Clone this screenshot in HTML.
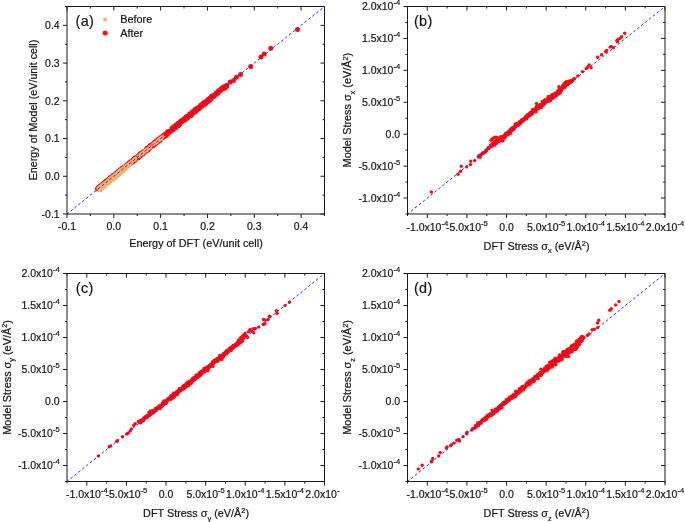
<!DOCTYPE html>
<html><head><meta charset="utf-8"><style>
html,body{margin:0;padding:0;background:#fff;}
svg{display:block;will-change:transform;}
text{font-family:"Liberation Sans", sans-serif;fill:#161616;stroke:#161616;stroke-width:0.2px;}
</style></head><body>
<svg width="685" height="522" viewBox="0 0 685 522">
<rect width="685" height="522" fill="#fff"/>
<g fill="#ff0a0a">
<circle cx="97.6" cy="188.9" r="2.5"/>
<circle cx="97.9" cy="188.4" r="2.5"/>
<circle cx="98.1" cy="188.3" r="2.5"/>
<circle cx="98.6" cy="187.5" r="2.5"/>
<circle cx="99.0" cy="187.8" r="2.5"/>
<circle cx="99.7" cy="186.7" r="2.5"/>
<circle cx="99.9" cy="186.4" r="2.5"/>
<circle cx="100.1" cy="186.3" r="2.5"/>
<circle cx="100.4" cy="186.6" r="2.5"/>
<circle cx="100.7" cy="186.1" r="2.5"/>
<circle cx="100.9" cy="185.8" r="2.5"/>
<circle cx="101.8" cy="185.0" r="2.5"/>
<circle cx="102.0" cy="185.2" r="2.5"/>
<circle cx="102.5" cy="184.6" r="2.5"/>
<circle cx="103.1" cy="184.5" r="2.5"/>
<circle cx="103.5" cy="183.8" r="2.5"/>
<circle cx="103.7" cy="183.9" r="2.5"/>
<circle cx="103.8" cy="183.5" r="2.5"/>
<circle cx="104.6" cy="182.7" r="2.5"/>
<circle cx="104.9" cy="182.5" r="2.5"/>
<circle cx="105.1" cy="182.3" r="2.5"/>
<circle cx="105.3" cy="182.5" r="2.5"/>
<circle cx="105.6" cy="182.0" r="2.5"/>
<circle cx="106.0" cy="182.1" r="2.5"/>
<circle cx="106.2" cy="181.5" r="2.5"/>
<circle cx="106.5" cy="181.6" r="2.5"/>
<circle cx="106.7" cy="181.0" r="2.5"/>
<circle cx="106.9" cy="181.0" r="2.5"/>
<circle cx="107.0" cy="180.7" r="2.5"/>
<circle cx="107.3" cy="180.9" r="2.5"/>
<circle cx="107.6" cy="180.9" r="2.5"/>
<circle cx="107.9" cy="180.6" r="2.5"/>
<circle cx="108.0" cy="180.5" r="2.5"/>
<circle cx="108.5" cy="180.0" r="2.5"/>
<circle cx="109.2" cy="179.6" r="2.5"/>
<circle cx="109.4" cy="178.9" r="2.5"/>
<circle cx="109.7" cy="178.6" r="2.5"/>
<circle cx="109.8" cy="179.1" r="2.5"/>
<circle cx="110.1" cy="178.3" r="2.5"/>
<circle cx="110.3" cy="178.2" r="2.5"/>
<circle cx="110.7" cy="178.2" r="2.5"/>
<circle cx="111.0" cy="177.6" r="2.5"/>
<circle cx="111.1" cy="177.8" r="2.5"/>
<circle cx="111.3" cy="177.5" r="2.5"/>
<circle cx="111.5" cy="177.3" r="2.5"/>
<circle cx="112.4" cy="176.8" r="2.5"/>
<circle cx="112.5" cy="176.2" r="2.5"/>
<circle cx="113.2" cy="175.7" r="2.5"/>
<circle cx="113.4" cy="176.1" r="2.5"/>
<circle cx="113.7" cy="175.3" r="2.5"/>
<circle cx="113.9" cy="175.8" r="2.5"/>
<circle cx="114.2" cy="175.5" r="2.5"/>
<circle cx="114.7" cy="175.2" r="2.5"/>
<circle cx="115.2" cy="174.8" r="2.5"/>
<circle cx="115.4" cy="174.2" r="2.5"/>
<circle cx="115.7" cy="173.8" r="2.5"/>
<circle cx="116.0" cy="174.2" r="2.5"/>
<circle cx="116.1" cy="174.0" r="2.5"/>
<circle cx="116.4" cy="173.8" r="2.5"/>
<circle cx="116.7" cy="172.9" r="2.5"/>
<circle cx="116.9" cy="172.9" r="2.5"/>
<circle cx="117.1" cy="173.0" r="2.5"/>
<circle cx="117.5" cy="172.5" r="2.5"/>
<circle cx="117.8" cy="172.1" r="2.5"/>
<circle cx="118.4" cy="172.3" r="2.5"/>
<circle cx="118.7" cy="171.4" r="2.5"/>
<circle cx="119.0" cy="171.8" r="2.5"/>
<circle cx="119.4" cy="171.0" r="2.5"/>
<circle cx="119.6" cy="171.2" r="2.5"/>
<circle cx="120.2" cy="170.2" r="2.5"/>
<circle cx="120.4" cy="170.1" r="2.5"/>
<circle cx="120.6" cy="170.3" r="2.5"/>
<circle cx="120.8" cy="170.3" r="2.5"/>
<circle cx="121.3" cy="169.2" r="2.5"/>
<circle cx="121.9" cy="169.2" r="2.5"/>
<circle cx="122.2" cy="168.4" r="2.5"/>
<circle cx="122.4" cy="168.3" r="2.5"/>
<circle cx="122.8" cy="168.0" r="2.5"/>
<circle cx="123.1" cy="168.3" r="2.5"/>
<circle cx="123.5" cy="168.4" r="2.5"/>
<circle cx="123.5" cy="167.8" r="2.5"/>
<circle cx="123.8" cy="167.7" r="2.5"/>
<circle cx="124.0" cy="167.2" r="2.5"/>
<circle cx="124.4" cy="167.2" r="2.5"/>
<circle cx="124.7" cy="166.9" r="2.5"/>
<circle cx="125.5" cy="166.7" r="2.5"/>
<circle cx="125.6" cy="166.5" r="2.5"/>
<circle cx="126.1" cy="166.5" r="2.5"/>
<circle cx="126.9" cy="164.9" r="2.5"/>
<circle cx="127.2" cy="165.3" r="2.5"/>
<circle cx="127.3" cy="165.7" r="2.5"/>
<circle cx="128.2" cy="164.1" r="2.5"/>
<circle cx="128.8" cy="163.9" r="2.5"/>
<circle cx="129.2" cy="163.6" r="2.5"/>
<circle cx="129.5" cy="162.7" r="2.5"/>
<circle cx="129.8" cy="163.7" r="2.5"/>
<circle cx="130.0" cy="163.1" r="2.5"/>
<circle cx="130.5" cy="163.1" r="2.5"/>
<circle cx="131.0" cy="161.5" r="2.5"/>
<circle cx="131.1" cy="161.8" r="2.5"/>
<circle cx="131.4" cy="162.0" r="2.5"/>
<circle cx="131.8" cy="161.4" r="2.5"/>
<circle cx="132.7" cy="162.0" r="2.5"/>
<circle cx="132.9" cy="160.2" r="2.5"/>
<circle cx="133.1" cy="160.9" r="2.5"/>
<circle cx="133.5" cy="160.4" r="2.5"/>
<circle cx="133.7" cy="160.3" r="2.5"/>
<circle cx="133.9" cy="159.1" r="2.5"/>
<circle cx="134.1" cy="160.8" r="2.5"/>
<circle cx="134.6" cy="158.7" r="2.5"/>
<circle cx="135.0" cy="160.0" r="2.5"/>
<circle cx="135.1" cy="158.4" r="2.5"/>
<circle cx="135.5" cy="158.0" r="2.5"/>
<circle cx="135.8" cy="157.9" r="2.5"/>
<circle cx="136.1" cy="158.0" r="2.5"/>
<circle cx="136.3" cy="158.6" r="2.5"/>
<circle cx="136.6" cy="157.3" r="2.5"/>
<circle cx="136.9" cy="157.5" r="2.5"/>
<circle cx="137.1" cy="157.5" r="2.5"/>
<circle cx="137.3" cy="157.6" r="2.5"/>
<circle cx="137.6" cy="157.8" r="2.5"/>
<circle cx="138.0" cy="156.2" r="2.5"/>
<circle cx="138.2" cy="157.4" r="2.5"/>
<circle cx="138.3" cy="157.4" r="2.5"/>
<circle cx="138.7" cy="157.0" r="2.5"/>
<circle cx="138.8" cy="156.6" r="2.5"/>
<circle cx="139.0" cy="156.6" r="2.5"/>
<circle cx="139.4" cy="154.8" r="2.5"/>
<circle cx="139.7" cy="154.4" r="2.5"/>
<circle cx="139.9" cy="156.1" r="2.5"/>
<circle cx="140.4" cy="155.4" r="2.5"/>
<circle cx="140.7" cy="153.9" r="2.5"/>
<circle cx="140.8" cy="153.5" r="2.5"/>
<circle cx="141.1" cy="154.4" r="2.5"/>
<circle cx="141.3" cy="153.5" r="2.5"/>
<circle cx="142.3" cy="154.3" r="2.5"/>
<circle cx="142.7" cy="152.6" r="2.5"/>
<circle cx="142.9" cy="152.7" r="2.5"/>
<circle cx="143.0" cy="153.2" r="2.5"/>
<circle cx="143.6" cy="152.8" r="2.5"/>
<circle cx="143.8" cy="151.4" r="2.5"/>
<circle cx="144.0" cy="152.8" r="2.5"/>
<circle cx="144.7" cy="151.6" r="2.5"/>
<circle cx="144.9" cy="151.2" r="2.5"/>
<circle cx="145.7" cy="151.1" r="2.5"/>
<circle cx="146.5" cy="150.8" r="2.5"/>
<circle cx="146.7" cy="150.4" r="2.5"/>
<circle cx="146.9" cy="148.6" r="2.5"/>
<circle cx="147.1" cy="148.4" r="2.5"/>
<circle cx="147.4" cy="149.5" r="2.5"/>
<circle cx="147.7" cy="149.3" r="2.5"/>
<circle cx="147.9" cy="148.9" r="2.5"/>
<circle cx="148.1" cy="149.7" r="2.5"/>
<circle cx="148.4" cy="149.0" r="2.5"/>
<circle cx="148.9" cy="148.5" r="2.5"/>
<circle cx="149.1" cy="146.9" r="2.5"/>
<circle cx="149.3" cy="146.8" r="2.5"/>
<circle cx="149.7" cy="147.4" r="2.5"/>
<circle cx="150.0" cy="147.3" r="2.5"/>
<circle cx="150.5" cy="145.8" r="2.5"/>
<circle cx="150.7" cy="145.6" r="2.5"/>
<circle cx="151.1" cy="145.5" r="2.5"/>
<circle cx="151.4" cy="145.0" r="2.5"/>
<circle cx="151.9" cy="145.8" r="2.5"/>
<circle cx="152.1" cy="145.8" r="2.5"/>
<circle cx="152.3" cy="145.7" r="2.5"/>
<circle cx="152.5" cy="144.5" r="2.5"/>
<circle cx="152.8" cy="145.4" r="2.5"/>
<circle cx="153.2" cy="145.1" r="2.5"/>
<circle cx="153.5" cy="145.3" r="2.5"/>
<circle cx="153.7" cy="144.0" r="2.5"/>
<circle cx="154.0" cy="143.3" r="2.5"/>
<circle cx="154.2" cy="144.2" r="2.5"/>
<circle cx="154.5" cy="144.2" r="2.5"/>
<circle cx="154.5" cy="143.8" r="2.5"/>
<circle cx="154.8" cy="142.2" r="2.5"/>
<circle cx="155.0" cy="142.9" r="2.5"/>
<circle cx="155.4" cy="142.2" r="2.5"/>
<circle cx="155.6" cy="143.2" r="2.5"/>
<circle cx="156.0" cy="143.3" r="2.5"/>
<circle cx="156.1" cy="141.3" r="2.5"/>
<circle cx="156.8" cy="141.1" r="2.5"/>
<circle cx="157.1" cy="141.6" r="2.5"/>
<circle cx="157.4" cy="140.4" r="2.5"/>
<circle cx="157.7" cy="141.9" r="2.5"/>
<circle cx="158.0" cy="140.1" r="2.5"/>
<circle cx="158.4" cy="139.4" r="2.5"/>
<circle cx="158.5" cy="139.3" r="2.5"/>
<circle cx="158.9" cy="140.3" r="2.5"/>
<circle cx="159.1" cy="139.1" r="2.5"/>
<circle cx="159.4" cy="140.3" r="2.5"/>
<circle cx="159.5" cy="140.2" r="2.5"/>
<circle cx="159.9" cy="138.4" r="2.5"/>
<circle cx="160.1" cy="139.7" r="2.5"/>
<circle cx="160.4" cy="139.9" r="2.5"/>
<circle cx="160.6" cy="139.1" r="2.5"/>
<circle cx="161.1" cy="137.2" r="2.5"/>
<circle cx="161.5" cy="138.0" r="2.5"/>
<circle cx="161.9" cy="137.0" r="2.5"/>
<circle cx="162.3" cy="137.6" r="2.5"/>
<circle cx="162.6" cy="137.5" r="2.5"/>
<circle cx="162.8" cy="135.9" r="2.5"/>
<circle cx="163.2" cy="136.2" r="2.5"/>
<circle cx="163.4" cy="136.5" r="2.5"/>
<circle cx="164.5" cy="135.0" r="2.5"/>
<circle cx="164.6" cy="136.4" r="2.5"/>
<circle cx="165.1" cy="134.6" r="2.5"/>
<circle cx="165.3" cy="134.5" r="2.5"/>
<circle cx="165.6" cy="135.3" r="2.5"/>
<circle cx="166.0" cy="134.4" r="2.5"/>
<circle cx="166.2" cy="135.0" r="2.5"/>
<circle cx="166.3" cy="134.1" r="2.5"/>
<circle cx="166.6" cy="134.9" r="2.5"/>
<circle cx="167.0" cy="132.4" r="2.5"/>
<circle cx="167.2" cy="132.2" r="2.5"/>
<circle cx="167.4" cy="134.1" r="2.5"/>
<circle cx="167.7" cy="132.0" r="2.5"/>
<circle cx="168.1" cy="131.8" r="2.5"/>
<circle cx="168.7" cy="131.8" r="2.5"/>
<circle cx="169.0" cy="132.3" r="2.5"/>
<circle cx="169.1" cy="132.3" r="2.5"/>
<circle cx="170.0" cy="131.5" r="2.5"/>
<circle cx="171.4" cy="130.4" r="2.5"/>
<circle cx="171.9" cy="128.6" r="2.5"/>
<circle cx="172.5" cy="128.2" r="2.5"/>
<circle cx="172.8" cy="129.9" r="2.5"/>
<circle cx="173.1" cy="127.5" r="2.5"/>
<circle cx="173.4" cy="127.4" r="2.5"/>
<circle cx="173.6" cy="128.3" r="2.5"/>
<circle cx="174.0" cy="126.9" r="2.5"/>
<circle cx="174.3" cy="128.1" r="2.5"/>
<circle cx="174.6" cy="126.5" r="2.5"/>
<circle cx="174.8" cy="127.8" r="2.5"/>
<circle cx="175.1" cy="127.7" r="2.5"/>
<circle cx="175.3" cy="127.7" r="2.5"/>
<circle cx="175.9" cy="127.4" r="2.5"/>
<circle cx="176.1" cy="124.9" r="2.5"/>
<circle cx="176.9" cy="125.5" r="2.5"/>
<circle cx="177.2" cy="125.6" r="2.5"/>
<circle cx="177.3" cy="125.1" r="2.5"/>
<circle cx="177.7" cy="125.4" r="2.5"/>
<circle cx="177.8" cy="123.8" r="2.5"/>
<circle cx="178.1" cy="125.5" r="2.5"/>
<circle cx="178.4" cy="125.5" r="2.5"/>
<circle cx="178.6" cy="123.1" r="2.5"/>
<circle cx="179.2" cy="124.5" r="2.5"/>
<circle cx="179.6" cy="123.9" r="2.5"/>
<circle cx="179.9" cy="123.0" r="2.5"/>
<circle cx="180.5" cy="122.1" r="2.5"/>
<circle cx="181.0" cy="121.1" r="2.5"/>
<circle cx="181.4" cy="121.9" r="2.5"/>
<circle cx="181.7" cy="121.1" r="2.5"/>
<circle cx="181.8" cy="121.0" r="2.5"/>
<circle cx="182.2" cy="120.8" r="2.5"/>
<circle cx="182.6" cy="120.7" r="2.5"/>
<circle cx="183.3" cy="120.0" r="2.5"/>
<circle cx="183.9" cy="119.7" r="2.5"/>
<circle cx="184.2" cy="120.3" r="2.5"/>
<circle cx="184.4" cy="118.8" r="2.5"/>
<circle cx="184.6" cy="118.7" r="2.5"/>
<circle cx="184.8" cy="119.5" r="2.5"/>
<circle cx="185.0" cy="119.5" r="2.5"/>
<circle cx="185.5" cy="118.7" r="2.5"/>
<circle cx="186.0" cy="117.1" r="2.5"/>
<circle cx="186.0" cy="118.5" r="2.5"/>
<circle cx="186.6" cy="118.5" r="2.5"/>
<circle cx="186.8" cy="116.8" r="2.5"/>
<circle cx="187.0" cy="117.0" r="2.5"/>
<circle cx="187.5" cy="116.7" r="2.5"/>
<circle cx="187.7" cy="117.5" r="2.5"/>
<circle cx="188.1" cy="116.2" r="2.5"/>
<circle cx="188.4" cy="116.7" r="2.5"/>
<circle cx="189.3" cy="115.0" r="2.5"/>
<circle cx="189.7" cy="114.1" r="2.5"/>
<circle cx="189.9" cy="115.7" r="2.5"/>
<circle cx="190.3" cy="115.3" r="2.5"/>
<circle cx="190.8" cy="114.2" r="2.5"/>
<circle cx="191.2" cy="115.2" r="2.5"/>
<circle cx="191.4" cy="114.6" r="2.5"/>
<circle cx="191.7" cy="113.8" r="2.5"/>
<circle cx="191.8" cy="112.8" r="2.5"/>
<circle cx="192.2" cy="112.7" r="2.5"/>
<circle cx="192.6" cy="111.8" r="2.5"/>
<circle cx="193.2" cy="112.4" r="2.5"/>
<circle cx="193.4" cy="111.5" r="2.5"/>
<circle cx="194.3" cy="112.3" r="2.5"/>
<circle cx="194.7" cy="110.4" r="2.5"/>
<circle cx="195.0" cy="110.1" r="2.5"/>
<circle cx="195.0" cy="109.6" r="2.5"/>
<circle cx="195.5" cy="111.6" r="2.5"/>
<circle cx="195.9" cy="110.7" r="2.5"/>
<circle cx="196.1" cy="110.7" r="2.5"/>
<circle cx="196.3" cy="109.7" r="2.5"/>
<circle cx="196.6" cy="109.7" r="2.5"/>
<circle cx="196.9" cy="108.7" r="2.5"/>
<circle cx="197.1" cy="109.5" r="2.5"/>
<circle cx="197.4" cy="108.0" r="2.5"/>
<circle cx="197.9" cy="108.3" r="2.5"/>
<circle cx="198.2" cy="109.0" r="2.5"/>
<circle cx="198.7" cy="108.7" r="2.5"/>
<circle cx="199.1" cy="107.7" r="2.5"/>
<circle cx="199.6" cy="106.9" r="2.5"/>
<circle cx="200.0" cy="107.4" r="2.5"/>
<circle cx="200.9" cy="105.6" r="2.5"/>
<circle cx="201.0" cy="105.0" r="2.5"/>
<circle cx="201.4" cy="105.5" r="2.5"/>
<circle cx="201.7" cy="105.5" r="2.5"/>
<circle cx="201.8" cy="105.1" r="2.5"/>
<circle cx="202.0" cy="106.3" r="2.5"/>
<circle cx="203.2" cy="103.5" r="2.5"/>
<circle cx="203.7" cy="102.8" r="2.5"/>
<circle cx="204.1" cy="104.6" r="2.5"/>
<circle cx="204.3" cy="102.8" r="2.5"/>
<circle cx="204.5" cy="104.2" r="2.5"/>
<circle cx="205.1" cy="102.9" r="2.5"/>
<circle cx="205.3" cy="103.6" r="2.5"/>
<circle cx="205.6" cy="103.4" r="2.5"/>
<circle cx="206.1" cy="101.4" r="2.5"/>
<circle cx="207.0" cy="100.9" r="2.5"/>
<circle cx="207.0" cy="102.1" r="2.5"/>
<circle cx="207.7" cy="99.9" r="2.5"/>
<circle cx="208.0" cy="100.9" r="2.5"/>
<circle cx="208.5" cy="100.9" r="2.5"/>
<circle cx="208.9" cy="100.7" r="2.5"/>
<circle cx="209.0" cy="98.9" r="2.5"/>
<circle cx="209.4" cy="98.5" r="2.5"/>
<circle cx="209.6" cy="99.5" r="2.5"/>
<circle cx="210.2" cy="99.6" r="2.5"/>
<circle cx="210.6" cy="99.3" r="2.5"/>
<circle cx="211.2" cy="96.9" r="2.5"/>
<circle cx="211.6" cy="97.5" r="2.5"/>
<circle cx="211.9" cy="96.7" r="2.5"/>
<circle cx="212.2" cy="96.0" r="2.5"/>
<circle cx="212.4" cy="96.2" r="2.5"/>
<circle cx="212.6" cy="95.9" r="2.5"/>
<circle cx="213.4" cy="96.6" r="2.5"/>
<circle cx="213.7" cy="95.8" r="2.5"/>
<circle cx="213.9" cy="96.0" r="2.5"/>
<circle cx="214.2" cy="96.1" r="2.5"/>
<circle cx="215.9" cy="93.2" r="2.5"/>
<circle cx="216.4" cy="94.3" r="2.5"/>
<circle cx="217.1" cy="92.4" r="2.5"/>
<circle cx="217.9" cy="92.9" r="2.5"/>
<circle cx="218.5" cy="90.8" r="2.5"/>
<circle cx="219.1" cy="90.9" r="2.5"/>
<circle cx="219.7" cy="91.1" r="2.5"/>
<circle cx="220.3" cy="90.1" r="2.5"/>
<circle cx="220.6" cy="90.5" r="2.5"/>
<circle cx="221.1" cy="88.9" r="2.5"/>
<circle cx="221.6" cy="88.7" r="2.5"/>
<circle cx="222.6" cy="88.3" r="2.5"/>
<circle cx="223.0" cy="87.3" r="2.5"/>
<circle cx="223.9" cy="88.1" r="2.5"/>
<circle cx="224.1" cy="88.3" r="2.5"/>
<circle cx="224.3" cy="86.8" r="2.5"/>
<circle cx="224.8" cy="87.9" r="2.5"/>
<circle cx="225.6" cy="86.3" r="2.5"/>
<circle cx="225.9" cy="86.9" r="2.5"/>
<circle cx="226.1" cy="86.8" r="2.5"/>
<circle cx="226.6" cy="85.7" r="2.5"/>
<circle cx="226.8" cy="85.6" r="2.5"/>
<circle cx="297.5" cy="29.4" r="2.5"/>
<circle cx="270.8" cy="48.2" r="2.5"/>
<circle cx="264.2" cy="54.0" r="2.5"/>
<circle cx="261.0" cy="56.9" r="2.5"/>
<circle cx="250.7" cy="66.6" r="2.5"/>
<circle cx="240.6" cy="74.4" r="2.5"/>
<circle cx="236.4" cy="77.2" r="2.5"/>
<circle cx="233.5" cy="80.6" r="2.5"/>
<circle cx="230.2" cy="82.0" r="2.5"/>
</g>
<g fill="#f0b070">
<polygon points="99.16,186.25 100.04,188.35 102.30,188.53 100.58,190.01 101.10,192.22 99.16,191.03 97.22,192.22 97.75,190.01 96.03,188.53 98.29,188.35"/>
<polygon points="99.04,184.71 99.91,186.81 102.17,186.99 100.45,188.47 100.98,190.68 99.04,189.50 97.10,190.68 97.62,188.47 95.90,186.99 98.16,186.81"/>
<polygon points="99.32,186.47 100.19,188.57 102.46,188.75 100.73,190.23 101.26,192.44 99.32,191.26 97.38,192.44 97.91,190.23 96.18,188.75 98.45,188.57"/>
<polygon points="99.42,185.87 100.30,187.97 102.56,188.15 100.83,189.63 101.36,191.84 99.42,190.66 97.48,191.84 98.01,189.63 96.28,188.15 98.55,187.97"/>
<polygon points="99.67,184.54 100.54,186.64 102.80,186.82 101.08,188.30 101.61,190.51 99.67,189.32 97.73,190.51 98.25,188.30 96.53,186.82 98.79,186.64"/>
<polygon points="99.79,186.31 100.66,188.41 102.93,188.59 101.20,190.07 101.73,192.28 99.79,191.10 97.85,192.28 98.38,190.07 96.65,188.59 98.92,188.41"/>
<polygon points="99.76,186.12 100.64,188.22 102.90,188.40 101.18,189.88 101.70,192.09 99.76,190.90 97.83,192.09 98.35,189.88 96.63,188.40 98.89,188.22"/>
<polygon points="100.17,184.60 101.04,186.70 103.31,186.88 101.58,188.36 102.11,190.57 100.17,189.38 98.23,190.57 98.76,188.36 97.03,186.88 99.30,186.70"/>
<polygon points="100.10,185.90 100.97,187.99 103.24,188.18 101.51,189.66 102.04,191.87 100.10,190.68 98.16,191.87 98.69,189.66 96.96,188.18 99.23,187.99"/>
<polygon points="100.27,185.93 101.14,188.03 103.40,188.21 101.68,189.69 102.20,191.90 100.27,190.72 98.33,191.90 98.85,189.69 97.13,188.21 99.39,188.03"/>
<polygon points="100.38,183.83 101.25,185.92 103.52,186.11 101.79,187.59 102.32,189.80 100.38,188.61 98.44,189.80 98.96,187.59 97.24,186.11 99.50,185.92"/>
<polygon points="100.74,183.59 101.61,185.69 103.88,185.87 102.15,187.35 102.68,189.56 100.74,188.37 98.80,189.56 99.32,187.35 97.60,185.87 99.86,185.69"/>
<polygon points="100.78,184.03 101.66,186.13 103.92,186.31 102.20,187.79 102.72,190.00 100.78,188.82 98.84,190.00 99.37,187.79 97.65,186.31 99.91,186.13"/>
<polygon points="100.91,183.57 101.78,185.67 104.04,185.85 102.32,187.33 102.85,189.54 100.91,188.36 98.97,189.54 99.49,187.33 97.77,185.85 100.03,185.67"/>
<polygon points="101.01,183.50 101.89,185.60 104.15,185.79 102.43,187.26 102.95,189.47 101.01,188.29 99.07,189.47 99.60,187.26 97.87,185.79 100.14,185.60"/>
<polygon points="101.35,183.83 102.22,185.93 104.49,186.11 102.76,187.59 103.29,189.80 101.35,188.61 99.41,189.80 99.94,187.59 98.21,186.11 100.48,185.93"/>
<polygon points="101.62,183.52 102.49,185.62 104.76,185.80 103.03,187.28 103.56,189.49 101.62,188.31 99.68,189.49 100.21,187.28 98.48,185.80 100.75,185.62"/>
<polygon points="101.93,184.66 102.80,186.75 105.07,186.94 103.34,188.41 103.87,190.63 101.93,189.44 99.99,190.63 100.52,188.41 98.79,186.94 101.06,186.75"/>
<polygon points="101.99,183.88 102.87,185.98 105.13,186.16 103.41,187.64 103.93,189.85 101.99,188.67 100.05,189.85 100.58,187.64 98.86,186.16 101.12,185.98"/>
<polygon points="102.09,183.86 102.96,185.96 105.23,186.14 103.50,187.62 104.03,189.83 102.09,188.64 100.15,189.83 100.68,187.62 98.95,186.14 101.22,185.96"/>
<polygon points="102.17,182.43 103.04,184.53 105.31,184.71 103.58,186.19 104.11,188.40 102.17,187.22 100.23,188.40 100.76,186.19 99.03,184.71 101.30,184.53"/>
<polygon points="102.34,183.23 103.21,185.33 105.48,185.51 103.75,186.99 104.28,189.20 102.34,188.01 100.40,189.20 100.93,186.99 99.20,185.51 101.47,185.33"/>
<polygon points="102.45,183.11 103.33,185.21 105.59,185.39 103.86,186.87 104.39,189.08 102.45,187.90 100.51,189.08 101.04,186.87 99.31,185.39 101.58,185.21"/>
<polygon points="102.71,182.74 103.58,184.84 105.84,185.02 104.12,186.50 104.65,188.71 102.71,187.52 100.77,188.71 101.29,186.50 99.57,185.02 101.83,184.84"/>
<polygon points="102.63,182.31 103.50,184.41 105.77,184.59 104.04,186.07 104.57,188.28 102.63,187.10 100.69,188.28 101.22,186.07 99.49,184.59 101.76,184.41"/>
<polygon points="102.85,183.42 103.72,185.52 105.99,185.70 104.26,187.18 104.79,189.39 102.85,188.20 100.91,189.39 101.43,187.18 99.71,185.70 101.97,185.52"/>
<polygon points="103.14,181.79 104.01,183.89 106.28,184.07 104.55,185.55 105.08,187.76 103.14,186.58 101.20,187.76 101.73,185.55 100.00,184.07 102.26,183.89"/>
<polygon points="103.17,181.44 104.05,183.53 106.31,183.72 104.59,185.19 105.11,187.41 103.17,186.22 101.23,187.41 101.76,185.19 100.04,183.72 102.30,183.53"/>
<polygon points="103.34,182.70 104.21,184.79 106.47,184.98 104.75,186.45 105.28,188.67 103.34,187.48 101.40,188.67 101.92,186.45 100.20,184.98 102.46,184.79"/>
<polygon points="103.26,182.34 104.14,184.44 106.40,184.62 104.68,186.10 105.20,188.31 103.26,187.13 101.32,188.31 101.85,186.10 100.12,184.62 102.39,184.44"/>
<polygon points="103.57,182.13 104.44,184.23 106.71,184.41 104.98,185.89 105.51,188.10 103.57,186.91 101.63,188.10 102.16,185.89 100.43,184.41 102.70,184.23"/>
<polygon points="103.74,182.00 104.61,184.10 106.88,184.28 105.15,185.76 105.68,187.97 103.74,186.79 101.80,187.97 102.33,185.76 100.60,184.28 102.87,184.10"/>
<polygon points="103.79,182.97 104.66,185.07 106.93,185.25 105.20,186.73 105.73,188.94 103.79,187.76 101.85,188.94 102.38,186.73 100.65,185.25 102.92,185.07"/>
<polygon points="104.05,182.36 104.92,184.46 107.19,184.64 105.46,186.12 105.99,188.33 104.05,187.14 102.11,188.33 102.63,186.12 100.91,184.64 103.17,184.46"/>
<polygon points="104.25,181.09 105.12,183.19 107.39,183.37 105.66,184.85 106.19,187.06 104.25,185.88 102.31,187.06 102.84,184.85 101.11,183.37 103.38,183.19"/>
<polygon points="104.59,180.76 105.46,182.86 107.72,183.04 106.00,184.52 106.53,186.73 104.59,185.54 102.65,186.73 103.17,184.52 101.45,183.04 103.71,182.86"/>
<polygon points="104.76,181.47 105.63,183.57 107.90,183.75 106.17,185.23 106.70,187.44 104.76,186.25 102.82,187.44 103.35,185.23 101.62,183.75 103.89,183.57"/>
<polygon points="105.00,182.13 105.87,184.23 108.13,184.41 106.41,185.89 106.94,188.10 105.00,186.92 103.06,188.10 103.58,185.89 101.86,184.41 104.12,184.23"/>
<polygon points="105.01,180.60 105.88,182.70 108.14,182.88 106.42,184.36 106.95,186.57 105.01,185.38 103.07,186.57 103.59,184.36 101.87,182.88 104.13,182.70"/>
<polygon points="105.46,180.94 106.33,183.04 108.60,183.22 106.87,184.70 107.40,186.91 105.46,185.72 103.52,186.91 104.05,184.70 102.32,183.22 104.59,183.04"/>
<polygon points="105.63,180.43 106.50,182.53 108.77,182.71 107.04,184.19 107.57,186.40 105.63,185.21 103.69,186.40 104.22,184.19 102.49,182.71 104.76,182.53"/>
<polygon points="105.66,179.93 106.53,182.03 108.80,182.21 107.07,183.69 107.60,185.90 105.66,184.72 103.72,185.90 104.24,183.69 102.52,182.21 104.78,182.03"/>
<polygon points="105.97,179.45 106.85,181.55 109.11,181.73 107.39,183.21 107.91,185.42 105.97,184.24 104.03,185.42 104.56,183.21 102.84,181.73 105.10,181.55"/>
<polygon points="106.22,179.51 107.09,181.61 109.36,181.79 107.63,183.27 108.16,185.48 106.22,184.29 104.28,185.48 104.81,183.27 103.08,181.79 105.35,181.61"/>
<polygon points="106.38,180.30 107.25,182.40 109.52,182.58 107.79,184.06 108.32,186.27 106.38,185.09 104.44,186.27 104.97,184.06 103.24,182.58 105.51,182.40"/>
<polygon points="106.55,179.26 107.43,181.36 109.69,181.54 107.97,183.02 108.49,185.23 106.55,184.04 104.61,185.23 105.14,183.02 103.42,181.54 105.68,181.36"/>
<polygon points="106.92,179.87 107.79,181.97 110.06,182.15 108.33,183.63 108.86,185.84 106.92,184.65 104.98,185.84 105.51,183.63 103.78,182.15 106.05,181.97"/>
<polygon points="107.22,179.02 108.09,181.12 110.36,181.30 108.63,182.78 109.16,184.99 107.22,183.81 105.28,184.99 105.81,182.78 104.08,181.30 106.35,181.12"/>
<polygon points="107.06,179.18 107.93,181.28 110.20,181.46 108.47,182.94 109.00,185.15 107.06,183.97 105.12,185.15 105.65,182.94 103.92,181.46 106.19,181.28"/>
<polygon points="107.39,179.34 108.26,181.44 110.53,181.62 108.80,183.10 109.33,185.31 107.39,184.13 105.45,185.31 105.98,183.10 104.25,181.62 106.52,181.44"/>
<polygon points="107.74,179.36 108.61,181.46 110.88,181.64 109.15,183.12 109.68,185.33 107.74,184.15 105.80,185.33 106.33,183.12 104.60,181.64 106.87,181.46"/>
<polygon points="107.90,179.55 108.77,181.65 111.04,181.84 109.31,183.31 109.84,185.52 107.90,184.34 105.96,185.52 106.48,183.31 104.76,181.84 107.02,181.65"/>
<polygon points="108.15,178.12 109.02,180.22 111.28,180.40 109.56,181.88 110.08,184.09 108.15,182.91 106.21,184.09 106.73,181.88 105.01,180.40 107.27,180.22"/>
<polygon points="108.43,178.37 109.31,180.47 111.57,180.65 109.85,182.13 110.37,184.34 108.43,183.16 106.49,184.34 107.02,182.13 105.30,180.65 107.56,180.47"/>
<polygon points="108.68,178.94 109.55,181.04 111.82,181.22 110.09,182.70 110.62,184.91 108.68,183.73 106.74,184.91 107.27,182.70 105.54,181.22 107.80,181.04"/>
<polygon points="108.70,178.91 109.57,181.01 111.84,181.19 110.11,182.67 110.64,184.88 108.70,183.70 106.76,184.88 107.29,182.67 105.56,181.19 107.83,181.01"/>
<polygon points="108.88,178.52 109.76,180.62 112.02,180.80 110.30,182.28 110.82,184.49 108.88,183.31 106.94,184.49 107.47,182.28 105.75,180.80 108.01,180.62"/>
<polygon points="109.02,177.43 109.90,179.53 112.16,179.71 110.44,181.19 110.96,183.40 109.02,182.22 107.08,183.40 107.61,181.19 105.89,179.71 108.15,179.53"/>
<polygon points="109.48,177.82 110.36,179.92 112.62,180.10 110.90,181.58 111.42,183.79 109.48,182.61 107.54,183.79 108.07,181.58 106.35,180.10 108.61,179.92"/>
<polygon points="109.66,176.41 110.53,178.51 112.79,178.69 111.07,180.17 111.60,182.38 109.66,181.19 107.72,182.38 108.24,180.17 106.52,178.69 108.78,178.51"/>
<polygon points="109.93,176.80 110.80,178.90 113.06,179.08 111.34,180.56 111.86,182.77 109.93,181.59 107.99,182.77 108.51,180.56 106.79,179.08 109.05,178.90"/>
<polygon points="110.10,176.50 110.97,178.60 113.24,178.78 111.51,180.26 112.04,182.47 110.10,181.29 108.16,182.47 108.69,180.26 106.96,178.78 109.23,178.60"/>
<polygon points="110.17,176.03 111.04,178.13 113.31,178.31 111.58,179.79 112.11,182.00 110.17,180.82 108.23,182.00 108.76,179.79 107.03,178.31 109.30,178.13"/>
<polygon points="110.33,177.17 111.20,179.27 113.47,179.45 111.74,180.93 112.27,183.14 110.33,181.95 108.39,183.14 108.92,180.93 107.19,179.45 109.46,179.27"/>
<polygon points="110.44,177.00 111.31,179.10 113.58,179.28 111.85,180.76 112.38,182.97 110.44,181.78 108.50,182.97 109.03,180.76 107.30,179.28 109.57,179.10"/>
<polygon points="110.59,175.44 111.46,177.54 113.73,177.72 112.00,179.20 112.53,181.41 110.59,180.23 108.65,181.41 109.18,179.20 107.45,177.72 109.72,177.54"/>
<polygon points="110.86,175.57 111.73,177.66 114.00,177.85 112.27,179.32 112.80,181.54 110.86,180.35 108.92,181.54 109.45,179.32 107.72,177.85 109.99,177.66"/>
<polygon points="111.09,175.52 111.96,177.62 114.22,177.80 112.50,179.28 113.03,181.49 111.09,180.31 109.15,181.49 109.67,179.28 107.95,177.80 110.21,177.62"/>
<polygon points="111.49,174.67 112.36,176.77 114.62,176.95 112.90,178.43 113.43,180.64 111.49,179.45 109.55,180.64 110.07,178.43 108.35,176.95 110.61,176.77"/>
<polygon points="111.57,175.05 112.44,177.15 114.71,177.33 112.98,178.81 113.51,181.02 111.57,179.83 109.63,181.02 110.16,178.81 108.43,177.33 110.70,177.15"/>
<polygon points="111.81,176.51 112.68,178.61 114.94,178.79 113.22,180.27 113.74,182.48 111.81,181.30 109.87,182.48 110.39,180.27 108.67,178.79 110.93,178.61"/>
<polygon points="112.17,174.47 113.05,176.57 115.31,176.75 113.59,178.23 114.11,180.44 112.17,179.26 110.23,180.44 110.76,178.23 109.04,176.75 111.30,176.57"/>
<polygon points="112.40,175.86 113.27,177.96 115.54,178.14 113.81,179.62 114.34,181.83 112.40,180.65 110.46,181.83 110.99,179.62 109.26,178.14 111.53,177.96"/>
<polygon points="112.61,175.72 113.49,177.82 115.75,178.00 114.03,179.48 114.55,181.69 112.61,180.51 110.68,181.69 111.20,179.48 109.48,178.00 111.74,177.82"/>
<polygon points="112.71,174.19 113.58,176.29 115.85,176.48 114.12,177.95 114.65,180.16 112.71,178.98 110.77,180.16 111.30,177.95 109.57,176.48 111.84,176.29"/>
<polygon points="112.94,174.40 113.81,176.50 116.08,176.68 114.35,178.16 114.88,180.37 112.94,179.18 111.00,180.37 111.53,178.16 109.80,176.68 112.07,176.50"/>
<polygon points="113.17,175.56 114.04,177.66 116.30,177.84 114.58,179.32 115.11,181.53 113.17,180.35 111.23,181.53 111.75,179.32 110.03,177.84 112.29,177.66"/>
<polygon points="113.42,173.91 114.29,176.01 116.56,176.19 114.83,177.67 115.36,179.88 113.42,178.70 111.48,179.88 112.01,177.67 110.28,176.19 112.55,176.01"/>
<polygon points="113.58,174.13 114.45,176.23 116.72,176.41 114.99,177.89 115.52,180.10 113.58,178.92 111.64,180.10 112.17,177.89 110.44,176.41 112.71,176.23"/>
<polygon points="113.83,173.08 114.70,175.18 116.97,175.36 115.24,176.84 115.77,179.05 113.83,177.87 111.89,179.05 112.41,176.84 110.69,175.36 112.95,175.18"/>
<polygon points="114.14,173.11 115.01,175.21 117.27,175.39 115.55,176.87 116.08,179.08 114.14,177.89 112.20,179.08 112.72,176.87 111.00,175.39 113.26,175.21"/>
<polygon points="114.01,174.50 114.88,176.60 117.15,176.78 115.42,178.26 115.95,180.47 114.01,179.29 112.07,180.47 112.60,178.26 110.87,176.78 113.14,176.60"/>
<polygon points="114.48,173.64 115.36,175.74 117.62,175.92 115.90,177.40 116.42,179.61 114.48,178.43 112.54,179.61 113.07,177.40 111.35,175.92 113.61,175.74"/>
<polygon points="114.72,174.16 115.59,176.26 117.86,176.44 116.13,177.92 116.66,180.13 114.72,178.94 112.78,180.13 113.31,177.92 111.58,176.44 113.85,176.26"/>
<polygon points="114.78,173.51 115.65,175.61 117.92,175.79 116.19,177.27 116.72,179.48 114.78,178.29 112.84,179.48 113.37,177.27 111.64,175.79 113.91,175.61"/>
<polygon points="115.15,173.55 116.02,175.65 118.29,175.83 116.56,177.31 117.09,179.52 115.15,178.34 113.21,179.52 113.74,177.31 112.01,175.83 114.28,175.65"/>
<polygon points="115.40,172.12 116.28,174.22 118.54,174.40 116.82,175.88 117.34,178.09 115.40,176.90 113.46,178.09 113.99,175.88 112.27,174.40 114.53,174.22"/>
<polygon points="115.59,172.25 116.47,174.35 118.73,174.53 117.01,176.01 117.53,178.22 115.59,177.04 113.66,178.22 114.18,176.01 112.46,174.53 114.72,174.35"/>
<polygon points="115.95,171.46 116.82,173.56 119.09,173.74 117.36,175.22 117.89,177.43 115.95,176.24 114.01,177.43 114.54,175.22 112.81,173.74 115.08,173.56"/>
<polygon points="116.06,173.28 116.94,175.37 119.20,175.56 117.48,177.03 118.00,179.25 116.06,178.06 114.12,179.25 114.65,177.03 112.93,175.56 115.19,175.37"/>
<polygon points="116.13,171.04 117.00,173.13 119.27,173.32 117.54,174.79 118.07,177.01 116.13,175.82 114.19,177.01 114.72,174.79 112.99,173.32 115.26,173.13"/>
<polygon points="116.47,172.60 117.34,174.70 119.61,174.88 117.88,176.36 118.41,178.57 116.47,177.38 114.53,178.57 115.06,176.36 113.33,174.88 115.60,174.70"/>
<polygon points="116.68,171.19 117.56,173.29 119.82,173.47 118.10,174.95 118.62,177.16 116.68,175.98 114.74,177.16 115.27,174.95 113.55,173.47 115.81,173.29"/>
<polygon points="116.97,172.23 117.84,174.33 120.10,174.51 118.38,175.99 118.91,178.20 116.97,177.02 115.03,178.20 115.55,175.99 113.83,174.51 116.09,174.33"/>
<polygon points="116.80,172.48 117.68,174.57 119.94,174.76 118.22,176.23 118.74,178.44 116.80,177.26 114.86,178.44 115.39,176.23 113.66,174.76 115.93,174.57"/>
<polygon points="117.08,170.18 117.95,172.28 120.22,172.46 118.49,173.94 119.02,176.15 117.08,174.96 115.14,176.15 115.66,173.94 113.94,172.46 116.20,172.28"/>
<polygon points="117.04,170.57 117.92,172.66 120.18,172.85 118.46,174.32 118.98,176.54 117.04,175.35 115.10,176.54 115.63,174.32 113.90,172.85 116.17,172.66"/>
<polygon points="117.32,170.40 118.20,172.49 120.46,172.68 118.74,174.16 119.26,176.37 117.32,175.18 115.38,176.37 115.91,174.16 114.19,172.68 116.45,172.49"/>
<polygon points="117.58,171.77 118.45,173.87 120.72,174.05 118.99,175.53 119.52,177.74 117.58,176.55 115.64,177.74 116.17,175.53 114.44,174.05 116.71,173.87"/>
<polygon points="117.65,169.92 118.52,172.02 120.79,172.20 119.06,173.68 119.59,175.89 117.65,174.70 115.71,175.89 116.24,173.68 114.51,172.20 116.78,172.02"/>
<polygon points="117.88,170.53 118.76,172.63 121.02,172.81 119.30,174.29 119.82,176.50 117.88,175.32 115.94,176.50 116.47,174.29 114.75,172.81 117.01,172.63"/>
<polygon points="118.16,171.11 119.04,173.21 121.30,173.39 119.58,174.87 120.10,177.08 118.16,175.90 116.22,177.08 116.75,174.87 115.02,173.39 117.29,173.21"/>
<polygon points="118.41,170.13 119.28,172.23 121.55,172.41 119.82,173.89 120.35,176.10 118.41,174.91 116.47,176.10 117.00,173.89 115.27,172.41 117.54,172.23"/>
<polygon points="118.60,169.84 119.47,171.94 121.74,172.12 120.01,173.60 120.54,175.81 118.60,174.63 116.66,175.81 117.18,173.60 115.46,172.12 117.72,171.94"/>
<polygon points="118.93,169.26 119.80,171.36 122.07,171.54 120.34,173.02 120.87,175.23 118.93,174.04 116.99,175.23 117.52,173.02 115.79,171.54 118.06,171.36"/>
<polygon points="119.12,170.38 120.00,172.48 122.26,172.66 120.54,174.14 121.06,176.35 119.12,175.16 117.18,176.35 117.71,174.14 115.98,172.66 118.25,172.48"/>
<polygon points="119.49,169.68 120.36,171.78 122.63,171.96 120.90,173.44 121.43,175.65 119.49,174.46 117.55,175.65 118.08,173.44 116.35,171.96 118.62,171.78"/>
<polygon points="119.60,169.41 120.47,171.51 122.74,171.69 121.01,173.17 121.54,175.38 119.60,174.19 117.66,175.38 118.19,173.17 116.46,171.69 118.73,171.51"/>
<polygon points="119.96,168.07 120.83,170.17 123.10,170.35 121.37,171.83 121.90,174.04 119.96,172.85 118.02,174.04 118.55,171.83 116.82,170.35 119.09,170.17"/>
<polygon points="120.03,167.91 120.90,170.01 123.17,170.19 121.44,171.67 121.97,173.88 120.03,172.70 118.09,173.88 118.61,171.67 116.89,170.19 119.15,170.01"/>
<polygon points="120.01,167.76 120.89,169.86 123.15,170.04 121.43,171.52 121.95,173.73 120.01,172.55 118.07,173.73 118.60,171.52 116.88,170.04 119.14,169.86"/>
<polygon points="120.28,168.98 121.15,171.07 123.42,171.26 121.69,172.73 122.22,174.95 120.28,173.76 118.34,174.95 118.87,172.73 117.14,171.26 119.41,171.07"/>
<polygon points="120.74,169.16 121.61,171.26 123.88,171.44 122.15,172.92 122.68,175.13 120.74,173.95 118.80,175.13 119.33,172.92 117.60,171.44 119.87,171.26"/>
<polygon points="120.99,167.01 121.86,169.11 124.13,169.29 122.40,170.77 122.93,172.98 120.99,171.79 119.05,172.98 119.58,170.77 117.85,169.29 120.11,169.11"/>
<polygon points="121.23,167.72 122.10,169.82 124.37,170.00 122.64,171.48 123.17,173.69 121.23,172.51 119.29,173.69 119.82,171.48 118.09,170.00 120.36,169.82"/>
<polygon points="121.44,167.44 122.31,169.54 124.58,169.72 122.85,171.20 123.38,173.41 121.44,172.22 119.50,173.41 120.03,171.20 118.30,169.72 120.57,169.54"/>
<polygon points="121.58,166.95 122.45,169.05 124.72,169.23 122.99,170.71 123.52,172.92 121.58,171.73 119.64,172.92 120.17,170.71 118.44,169.23 120.71,169.05"/>
<polygon points="121.90,168.09 122.77,170.19 125.04,170.37 123.31,171.85 123.84,174.06 121.90,172.88 119.96,174.06 120.49,171.85 118.76,170.37 121.03,170.19"/>
<polygon points="122.00,167.64 122.87,169.74 125.14,169.92 123.41,171.40 123.94,173.61 122.00,172.43 120.06,173.61 120.58,171.40 118.86,169.92 121.12,169.74"/>
<polygon points="122.09,166.63 122.96,168.73 125.23,168.91 123.50,170.39 124.03,172.60 122.09,171.41 120.15,172.60 120.68,170.39 118.95,168.91 121.22,168.73"/>
<polygon points="122.40,167.09 123.27,169.19 125.54,169.37 123.81,170.85 124.34,173.06 122.40,171.88 120.46,173.06 120.99,170.85 119.26,169.37 121.53,169.19"/>
<polygon points="122.56,166.59 123.43,168.69 125.70,168.87 123.97,170.35 124.50,172.56 122.56,171.37 120.62,172.56 121.14,170.35 119.42,168.87 121.68,168.69"/>
<polygon points="122.68,167.15 123.56,169.24 125.82,169.43 124.10,170.90 124.62,173.11 122.68,171.93 120.74,173.11 121.27,170.90 119.54,169.43 121.81,169.24"/>
<polygon points="122.83,166.16 123.71,168.26 125.97,168.44 124.25,169.92 124.77,172.13 122.83,170.94 120.90,172.13 121.42,169.92 119.70,168.44 121.96,168.26"/>
<polygon points="123.25,166.01 124.12,168.11 126.39,168.29 124.66,169.77 125.19,171.98 123.25,170.79 121.31,171.98 121.84,169.77 120.11,168.29 122.37,168.11"/>
<polygon points="123.41,165.96 124.28,168.06 126.54,168.24 124.82,169.72 125.35,171.93 123.41,170.75 121.47,171.93 121.99,169.72 120.27,168.24 122.53,168.06"/>
<polygon points="123.56,165.55 124.43,167.65 126.70,167.83 124.97,169.31 125.50,171.52 123.56,170.33 121.62,171.52 122.15,169.31 120.42,167.83 122.68,167.65"/>
<polygon points="123.78,165.64 124.65,167.74 126.92,167.92 125.19,169.40 125.72,171.61 123.78,170.42 121.84,171.61 122.37,169.40 120.64,167.92 122.91,167.74"/>
<polygon points="124.19,164.78 125.06,166.88 127.32,167.06 125.60,168.54 126.13,170.75 124.19,169.57 122.25,170.75 122.77,168.54 121.05,167.06 123.31,166.88"/>
<polygon points="124.28,165.56 125.15,167.66 127.41,167.84 125.69,169.32 126.22,171.53 124.28,170.34 122.34,171.53 122.86,169.32 121.14,167.84 123.40,167.66"/>
<polygon points="124.54,164.99 125.42,167.09 127.68,167.27 125.96,168.75 126.48,170.96 124.54,169.78 122.60,170.96 123.13,168.75 121.40,167.27 123.67,167.09"/>
<polygon points="124.89,164.40 125.77,166.50 128.03,166.68 126.31,168.16 126.83,170.37 124.89,169.19 122.95,170.37 123.48,168.16 121.76,166.68 124.02,166.50"/>
<polygon points="125.09,165.29 125.96,167.39 128.23,167.57 126.50,169.05 127.03,171.26 125.09,170.07 123.15,171.26 123.68,169.05 121.95,167.57 124.22,167.39"/>
<polygon points="125.38,164.13 126.25,166.23 128.51,166.41 126.79,167.89 127.32,170.10 125.38,168.91 123.44,170.10 123.96,167.89 122.24,166.41 124.50,166.23"/>
<polygon points="125.60,163.51 126.47,165.61 128.74,165.79 127.01,167.27 127.54,169.48 125.60,168.29 123.66,169.48 124.19,167.27 122.46,165.79 124.73,165.61"/>
<polygon points="125.84,163.54 126.71,165.64 128.98,165.82 127.25,167.30 127.78,169.51 125.84,168.33 123.90,169.51 124.43,167.30 122.70,165.82 124.97,165.64"/>
<polygon points="126.07,163.31 126.95,165.41 129.21,165.60 127.49,167.07 128.01,169.28 126.07,168.10 124.13,169.28 124.66,167.07 122.94,165.60 125.20,165.41"/>
<polygon points="126.35,163.38 127.22,165.48 129.49,165.66 127.76,167.14 128.29,169.35 126.35,168.17 124.41,169.35 124.94,167.14 123.21,165.66 125.48,165.48"/>
<polygon points="126.52,163.48 127.39,165.58 129.66,165.77 127.93,167.24 128.46,169.45 126.52,168.27 124.58,169.45 125.11,167.24 123.38,165.77 125.65,165.58"/>
<polygon points="126.81,163.45 127.69,165.55 129.95,165.74 128.22,167.21 128.75,169.42 126.81,168.24 124.87,169.42 125.40,167.21 123.67,165.74 125.94,165.55"/>
<polygon points="127.29,163.04 128.01,164.76 129.86,164.91 128.45,166.12 128.88,167.93 127.29,166.96 125.71,167.93 126.14,166.12 124.73,164.91 126.58,164.76"/>
<polygon points="127.71,162.37 128.42,164.09 130.28,164.24 128.87,165.45 129.30,167.25 127.71,166.29 126.12,167.25 126.55,165.45 125.14,164.24 127.00,164.09"/>
<polygon points="127.91,162.83 128.62,164.55 130.48,164.70 129.07,165.91 129.50,167.72 127.91,166.75 126.32,167.72 126.75,165.91 125.34,164.70 127.20,164.55"/>
<polygon points="128.12,163.14 128.83,164.86 130.69,165.01 129.28,166.22 129.71,168.03 128.12,167.06 126.53,168.03 126.96,166.22 125.55,165.01 127.41,164.86"/>
<polygon points="128.48,161.96 129.20,163.68 131.05,163.82 129.64,165.03 130.07,166.84 128.48,165.87 126.90,166.84 127.33,165.03 125.92,163.82 127.77,163.68"/>
<polygon points="128.59,162.35 129.30,164.07 131.16,164.22 129.75,165.43 130.18,167.24 128.59,166.27 127.00,167.24 127.43,165.43 126.02,164.22 127.88,164.07"/>
<polygon points="128.81,161.88 129.52,163.59 131.38,163.74 129.97,164.95 130.40,166.76 128.81,165.79 127.22,166.76 127.65,164.95 126.24,163.74 128.10,163.59"/>
<polygon points="129.13,161.81 129.84,163.53 131.69,163.68 130.28,164.89 130.71,166.70 129.13,165.73 127.54,166.70 127.97,164.89 126.56,163.68 128.41,163.53"/>
<polygon points="129.43,161.09 130.14,162.81 132.00,162.96 130.58,164.17 131.02,165.98 129.43,165.01 127.84,165.98 128.27,164.17 126.86,162.96 128.71,162.81"/>
<polygon points="129.51,161.81 130.22,163.53 132.07,163.67 130.66,164.88 131.09,166.69 129.51,165.72 127.92,166.69 128.35,164.88 126.94,163.67 128.79,163.53"/>
<polygon points="130.24,161.20 130.96,162.91 132.81,163.06 131.40,164.27 131.83,166.08 130.24,165.11 128.65,166.08 129.09,164.27 127.67,163.06 129.53,162.91"/>
<polygon points="130.46,160.31 131.17,162.03 133.03,162.18 131.61,163.39 132.05,165.19 130.46,164.23 128.87,165.19 129.30,163.39 127.89,162.18 129.75,162.03"/>
<polygon points="130.56,160.20 131.28,161.92 133.13,162.07 131.72,163.28 132.15,165.09 130.56,164.12 128.98,165.09 129.41,163.28 128.00,162.07 129.85,161.92"/>
<polygon points="130.76,159.61 131.48,161.33 133.33,161.48 131.92,162.69 132.35,164.50 130.76,163.53 129.18,164.50 129.61,162.69 128.19,161.48 130.05,161.33"/>
<polygon points="131.04,159.39 131.75,161.10 133.61,161.25 132.20,162.46 132.63,164.27 131.04,163.30 129.45,164.27 129.88,162.46 128.47,161.25 130.33,161.10"/>
<polygon points="131.62,159.56 132.34,161.27 134.19,161.42 132.78,162.63 133.21,164.44 131.62,163.47 130.04,164.44 130.47,162.63 129.05,161.42 130.91,161.27"/>
<polygon points="132.06,159.53 132.77,161.24 134.62,161.39 133.21,162.60 133.64,164.41 132.06,163.44 130.47,164.41 130.90,162.60 129.49,161.39 131.34,161.24"/>
<polygon points="132.84,157.96 133.56,159.68 135.41,159.82 134.00,161.03 134.43,162.84 132.84,161.87 131.25,162.84 131.69,161.03 130.27,159.82 132.13,159.68"/>
<polygon points="134.13,157.77 134.85,159.48 136.70,159.63 135.29,160.84 135.72,162.65 134.13,161.68 132.55,162.65 132.98,160.84 131.57,159.63 133.42,159.48"/>
<polygon points="134.40,156.64 135.12,158.35 136.97,158.50 135.56,159.71 135.99,161.52 134.40,160.55 132.82,161.52 133.25,159.71 131.84,158.50 133.69,158.35"/>
<polygon points="135.26,156.29 135.97,158.01 137.82,158.16 136.41,159.37 136.84,161.18 135.26,160.21 133.67,161.18 134.10,159.37 132.69,158.16 134.54,158.01"/>
<polygon points="135.60,155.52 136.31,157.23 138.17,157.38 136.76,158.59 137.19,160.40 135.60,159.43 134.01,160.40 134.44,158.59 133.03,157.38 134.89,157.23"/>
<polygon points="137.98,153.55 138.69,155.26 140.54,155.41 139.13,156.62 139.56,158.43 137.98,157.46 136.39,158.43 136.82,156.62 135.41,155.41 137.26,155.26"/>
<polygon points="139.10,153.55 139.82,155.27 141.67,155.41 140.26,156.62 140.69,158.43 139.10,157.46 137.51,158.43 137.95,156.62 136.53,155.41 138.39,155.27"/>
<polygon points="140.82,151.33 141.54,153.05 143.39,153.20 141.98,154.41 142.41,156.21 140.82,155.25 139.23,156.21 139.67,154.41 138.25,153.20 140.11,153.05"/>
<polygon points="141.01,152.21 141.72,153.93 143.58,154.07 142.17,155.28 142.60,157.09 141.01,156.12 139.42,157.09 139.86,155.28 138.44,154.07 140.30,153.93"/>
<polygon points="141.40,150.93 142.11,152.64 143.97,152.79 142.56,154.00 142.99,155.81 141.40,154.84 139.81,155.81 140.25,154.00 138.83,152.79 140.69,152.64"/>
<polygon points="142.21,151.11 142.92,152.83 144.77,152.97 143.36,154.18 143.79,155.99 142.21,155.02 140.62,155.99 141.05,154.18 139.64,152.97 141.49,152.83"/>
<polygon points="142.60,150.56 143.31,152.28 145.17,152.43 143.76,153.64 144.19,155.45 142.60,154.48 141.01,155.45 141.45,153.64 140.03,152.43 141.89,152.28"/>
<polygon points="142.89,150.37 143.61,152.09 145.46,152.24 144.05,153.45 144.48,155.26 142.89,154.29 141.31,155.26 141.74,153.45 140.32,152.24 142.18,152.09"/>
<polygon points="143.94,149.23 144.65,150.94 146.51,151.09 145.09,152.30 145.53,154.11 143.94,153.14 142.35,154.11 142.78,152.30 141.37,151.09 143.22,150.94"/>
<polygon points="144.01,149.39 144.72,151.10 146.57,151.25 145.16,152.46 145.59,154.27 144.01,153.30 142.42,154.27 142.85,152.46 141.44,151.25 143.29,151.10"/>
<polygon points="144.27,149.02 144.99,150.74 146.84,150.89 145.43,152.10 145.86,153.90 144.27,152.93 142.69,153.90 143.12,152.10 141.71,150.89 143.56,150.74"/>
<polygon points="144.89,148.58 145.61,150.29 147.46,150.44 146.05,151.65 146.48,153.46 144.89,152.49 143.30,153.46 143.74,151.65 142.32,150.44 144.18,150.29"/>
<polygon points="145.97,147.46 146.68,149.18 148.54,149.33 147.12,150.54 147.56,152.34 145.97,151.37 144.38,152.34 144.81,150.54 143.40,149.33 145.25,149.18"/>
<polygon points="146.33,147.85 147.04,149.57 148.90,149.72 147.49,150.93 147.92,152.74 146.33,151.77 144.74,152.74 145.17,150.93 143.76,149.72 145.62,149.57"/>
<polygon points="147.03,147.32 147.74,149.03 149.60,149.18 148.19,150.39 148.62,152.20 147.03,151.23 145.44,152.20 145.87,150.39 144.46,149.18 146.32,149.03"/>
<polygon points="147.29,146.52 148.01,148.24 149.86,148.39 148.45,149.60 148.88,151.41 147.29,150.44 145.71,151.41 146.14,149.60 144.73,148.39 146.58,148.24"/>
<polygon points="149.01,145.71 149.73,147.43 151.58,147.58 150.17,148.79 150.60,150.60 149.01,149.63 147.43,150.60 147.86,148.79 146.45,147.58 148.30,147.43"/>
<polygon points="150.05,143.91 150.77,145.62 152.62,145.77 151.21,146.98 151.64,148.79 150.05,147.82 148.47,148.79 148.90,146.98 147.49,145.77 149.34,145.62"/>
<polygon points="150.37,144.55 151.08,146.26 152.94,146.41 151.53,147.62 151.96,149.43 150.37,148.46 148.78,149.43 149.21,147.62 147.80,146.41 149.66,146.26"/>
<polygon points="153.12,141.85 153.83,143.57 155.69,143.71 154.27,144.92 154.70,146.73 153.12,145.76 151.53,146.73 151.96,144.92 150.55,143.71 152.40,143.57"/>
<polygon points="153.30,141.66 154.01,143.38 155.87,143.53 154.46,144.74 154.89,146.55 153.30,145.58 151.71,146.55 152.14,144.74 150.73,143.53 152.59,143.38"/>
<polygon points="153.66,141.29 154.37,143.01 156.22,143.16 154.81,144.36 155.24,146.17 153.66,145.20 152.07,146.17 152.50,144.36 151.09,143.16 152.94,143.01"/>
<polygon points="155.24,140.62 155.95,142.34 157.81,142.49 156.40,143.70 156.83,145.51 155.24,144.54 153.65,145.51 154.09,143.70 152.67,142.49 154.53,142.34"/>
<polygon points="155.89,139.33 156.60,141.05 158.45,141.20 157.04,142.41 157.47,144.21 155.89,143.24 154.30,144.21 154.73,142.41 153.32,141.20 155.17,141.05"/>
<polygon points="156.56,139.37 157.27,141.09 159.13,141.23 157.71,142.44 158.15,144.25 156.56,143.28 154.97,144.25 155.40,142.44 153.99,141.23 155.84,141.09"/>
<polygon points="157.27,139.00 157.99,140.72 159.84,140.87 158.43,142.08 158.86,143.89 157.27,142.92 155.69,143.89 156.12,142.08 154.70,140.87 156.56,140.72"/>
<polygon points="158.49,137.57 159.21,139.28 161.06,139.43 159.65,140.64 160.08,142.45 158.49,141.48 156.91,142.45 157.34,140.64 155.93,139.43 157.78,139.28"/>
<polygon points="158.82,137.36 159.53,139.08 161.39,139.23 159.97,140.44 160.41,142.24 158.82,141.27 157.23,142.24 157.66,140.44 156.25,139.23 158.10,139.08"/>
<polygon points="159.21,136.75 159.93,138.47 161.78,138.62 160.37,139.83 160.80,141.63 159.21,140.66 157.63,141.63 158.06,139.83 156.65,138.62 158.50,138.47"/>
<polygon points="159.29,136.70 160.00,138.42 161.86,138.57 160.45,139.78 160.88,141.58 159.29,140.62 157.70,141.58 158.14,139.78 156.72,138.57 158.58,138.42"/>
<polygon points="160.71,135.44 161.42,137.16 163.28,137.30 161.86,138.51 162.29,140.32 160.71,139.35 159.12,140.32 159.55,138.51 158.14,137.30 159.99,137.16"/>
<polygon points="160.86,135.99 161.57,137.71 163.43,137.86 162.01,139.07 162.45,140.88 160.86,139.91 159.27,140.88 159.70,139.07 158.29,137.86 160.14,137.71"/>
<polygon points="161.02,135.89 161.73,137.61 163.58,137.76 162.17,138.97 162.60,140.78 161.02,139.81 159.43,140.78 159.86,138.97 158.45,137.76 160.30,137.61"/>
<polygon points="161.43,134.90 162.15,136.62 164.00,136.77 162.59,137.98 163.02,139.79 161.43,138.82 159.85,139.79 160.28,137.98 158.87,136.77 160.72,136.62"/>
<polygon points="163.04,133.78 163.76,135.50 165.61,135.65 164.20,136.86 164.63,138.67 163.04,137.70 161.46,138.67 161.89,136.86 160.48,135.65 162.33,135.50"/>
<polygon points="161.20,136.30 161.99,138.21 164.05,138.37 162.48,139.72 162.96,141.73 161.20,140.65 159.44,141.73 159.92,139.72 158.35,138.37 160.41,138.21"/>
</g>
<g fill="#ff0a0a">
</g>
<line x1="67.00" y1="214.00" x2="324.50" y2="6.50" stroke="#2a2aff" stroke-width="1" stroke-dasharray="2.7 2.309" stroke-dashoffset="0.45"/>
<line x1="65.00" y1="6.50" x2="324.50" y2="6.50" stroke="#1a1a1a" stroke-width="1" />
<line x1="67.00" y1="6.50" x2="67.00" y2="214.00" stroke="#1a1a1a" stroke-width="1" />
<line x1="67.00" y1="214.00" x2="324.50" y2="214.00" stroke="#1a1a1a" stroke-width="1" />
<line x1="324.50" y1="6.50" x2="324.50" y2="215.60" stroke="#1a1a1a" stroke-width="1" />
<line x1="67.00" y1="214.00" x2="67.00" y2="218.00" stroke="#1a1a1a" stroke-width="1" />
<line x1="67.00" y1="6.50" x2="67.00" y2="10.50" stroke="#1a1a1a" stroke-width="1" />
<line x1="63.00" y1="214.00" x2="67.00" y2="214.00" stroke="#1a1a1a" stroke-width="1" />
<line x1="320.50" y1="214.00" x2="324.50" y2="214.00" stroke="#1a1a1a" stroke-width="1" />
<line x1="90.41" y1="214.00" x2="90.41" y2="216.00" stroke="#1a1a1a" stroke-width="1" />
<line x1="90.41" y1="6.50" x2="90.41" y2="8.50" stroke="#1a1a1a" stroke-width="1" />
<line x1="65.00" y1="195.14" x2="67.00" y2="195.14" stroke="#1a1a1a" stroke-width="1" />
<line x1="322.50" y1="195.14" x2="324.50" y2="195.14" stroke="#1a1a1a" stroke-width="1" />
<line x1="113.82" y1="214.00" x2="113.82" y2="218.00" stroke="#1a1a1a" stroke-width="1" />
<line x1="113.82" y1="6.50" x2="113.82" y2="10.50" stroke="#1a1a1a" stroke-width="1" />
<line x1="63.00" y1="176.27" x2="67.00" y2="176.27" stroke="#1a1a1a" stroke-width="1" />
<line x1="320.50" y1="176.27" x2="324.50" y2="176.27" stroke="#1a1a1a" stroke-width="1" />
<line x1="137.23" y1="214.00" x2="137.23" y2="216.00" stroke="#1a1a1a" stroke-width="1" />
<line x1="137.23" y1="6.50" x2="137.23" y2="8.50" stroke="#1a1a1a" stroke-width="1" />
<line x1="65.00" y1="157.41" x2="67.00" y2="157.41" stroke="#1a1a1a" stroke-width="1" />
<line x1="322.50" y1="157.41" x2="324.50" y2="157.41" stroke="#1a1a1a" stroke-width="1" />
<line x1="160.64" y1="214.00" x2="160.64" y2="218.00" stroke="#1a1a1a" stroke-width="1" />
<line x1="160.64" y1="6.50" x2="160.64" y2="10.50" stroke="#1a1a1a" stroke-width="1" />
<line x1="63.00" y1="138.55" x2="67.00" y2="138.55" stroke="#1a1a1a" stroke-width="1" />
<line x1="320.50" y1="138.55" x2="324.50" y2="138.55" stroke="#1a1a1a" stroke-width="1" />
<line x1="184.05" y1="214.00" x2="184.05" y2="216.00" stroke="#1a1a1a" stroke-width="1" />
<line x1="184.05" y1="6.50" x2="184.05" y2="8.50" stroke="#1a1a1a" stroke-width="1" />
<line x1="65.00" y1="119.68" x2="67.00" y2="119.68" stroke="#1a1a1a" stroke-width="1" />
<line x1="322.50" y1="119.68" x2="324.50" y2="119.68" stroke="#1a1a1a" stroke-width="1" />
<line x1="207.45" y1="214.00" x2="207.45" y2="218.00" stroke="#1a1a1a" stroke-width="1" />
<line x1="207.45" y1="6.50" x2="207.45" y2="10.50" stroke="#1a1a1a" stroke-width="1" />
<line x1="63.00" y1="100.82" x2="67.00" y2="100.82" stroke="#1a1a1a" stroke-width="1" />
<line x1="320.50" y1="100.82" x2="324.50" y2="100.82" stroke="#1a1a1a" stroke-width="1" />
<line x1="230.86" y1="214.00" x2="230.86" y2="216.00" stroke="#1a1a1a" stroke-width="1" />
<line x1="230.86" y1="6.50" x2="230.86" y2="8.50" stroke="#1a1a1a" stroke-width="1" />
<line x1="65.00" y1="81.95" x2="67.00" y2="81.95" stroke="#1a1a1a" stroke-width="1" />
<line x1="322.50" y1="81.95" x2="324.50" y2="81.95" stroke="#1a1a1a" stroke-width="1" />
<line x1="254.27" y1="214.00" x2="254.27" y2="218.00" stroke="#1a1a1a" stroke-width="1" />
<line x1="254.27" y1="6.50" x2="254.27" y2="10.50" stroke="#1a1a1a" stroke-width="1" />
<line x1="63.00" y1="63.09" x2="67.00" y2="63.09" stroke="#1a1a1a" stroke-width="1" />
<line x1="320.50" y1="63.09" x2="324.50" y2="63.09" stroke="#1a1a1a" stroke-width="1" />
<line x1="277.68" y1="214.00" x2="277.68" y2="216.00" stroke="#1a1a1a" stroke-width="1" />
<line x1="277.68" y1="6.50" x2="277.68" y2="8.50" stroke="#1a1a1a" stroke-width="1" />
<line x1="65.00" y1="44.23" x2="67.00" y2="44.23" stroke="#1a1a1a" stroke-width="1" />
<line x1="322.50" y1="44.23" x2="324.50" y2="44.23" stroke="#1a1a1a" stroke-width="1" />
<line x1="301.09" y1="214.00" x2="301.09" y2="218.00" stroke="#1a1a1a" stroke-width="1" />
<line x1="301.09" y1="6.50" x2="301.09" y2="10.50" stroke="#1a1a1a" stroke-width="1" />
<line x1="63.00" y1="25.36" x2="67.00" y2="25.36" stroke="#1a1a1a" stroke-width="1" />
<line x1="320.50" y1="25.36" x2="324.50" y2="25.36" stroke="#1a1a1a" stroke-width="1" />
<line x1="324.50" y1="214.00" x2="324.50" y2="216.00" stroke="#1a1a1a" stroke-width="1" />
<line x1="324.50" y1="6.50" x2="324.50" y2="8.50" stroke="#1a1a1a" stroke-width="1" />
<line x1="65.00" y1="6.50" x2="67.00" y2="6.50" stroke="#1a1a1a" stroke-width="1" />
<line x1="322.50" y1="6.50" x2="324.50" y2="6.50" stroke="#1a1a1a" stroke-width="1" />
<text x="67.00" y="229.70" font-size="10.5" text-anchor="middle" >-0.1</text>
<text x="59.70" y="217.75" font-size="10.5" text-anchor="end" >-0.1</text>
<text x="113.82" y="229.70" font-size="10.5" text-anchor="middle" >0.0</text>
<text x="59.70" y="180.02" font-size="10.5" text-anchor="end" >0.0</text>
<text x="160.64" y="229.70" font-size="10.5" text-anchor="middle" >0.1</text>
<text x="59.70" y="142.30" font-size="10.5" text-anchor="end" >0.1</text>
<text x="207.45" y="229.70" font-size="10.5" text-anchor="middle" >0.2</text>
<text x="59.70" y="104.57" font-size="10.5" text-anchor="end" >0.2</text>
<text x="254.27" y="229.70" font-size="10.5" text-anchor="middle" >0.3</text>
<text x="59.70" y="66.84" font-size="10.5" text-anchor="end" >0.3</text>
<text x="301.09" y="229.70" font-size="10.5" text-anchor="middle" >0.4</text>
<text x="59.70" y="29.11" font-size="10.5" text-anchor="end" >0.4</text>
<text x="196.00" y="246.80" font-size="10.85" text-anchor="middle" >Energy of DFT (eV/unit cell)</text>
<text transform="translate(36.8,110.0) rotate(-90)" font-size="10.72" text-anchor="middle">Energy of Model (eV/unit cell)</text>
<text x="75.60" y="26.40" font-size="14.4" text-anchor="start" letter-spacing="0.3">(a)</text>
<g fill="#f0b070">
<polygon points="105.15,16.50 105.94,18.41 108.00,18.57 106.43,19.92 106.91,21.93 105.15,20.85 103.39,21.93 103.87,19.92 102.30,18.57 104.36,18.41"/>
</g>
<g fill="#ff0a0a">
<circle cx="105.2" cy="32.9" r="2.5"/>
</g>
<text x="120.30" y="22.90" font-size="10.85" text-anchor="start" >Before</text>
<text x="120.30" y="37.10" font-size="10.85" text-anchor="start" >After</text>
<g>
<g fill="#ff0a0a">
<circle cx="478.2" cy="156.9" r="1.7"/>
<circle cx="479.8" cy="155.5" r="1.7"/>
<circle cx="480.4" cy="155.2" r="1.7"/>
<circle cx="480.7" cy="155.1" r="1.7"/>
<circle cx="481.6" cy="154.1" r="1.7"/>
<circle cx="482.5" cy="153.5" r="1.7"/>
<circle cx="482.7" cy="153.0" r="1.7"/>
<circle cx="483.3" cy="153.0" r="1.7"/>
<circle cx="483.9" cy="152.5" r="1.7"/>
<circle cx="485.4" cy="152.1" r="1.7"/>
<circle cx="486.0" cy="151.0" r="1.7"/>
<circle cx="486.1" cy="150.3" r="1.7"/>
<circle cx="486.5" cy="150.1" r="1.7"/>
<circle cx="486.7" cy="150.1" r="1.7"/>
<circle cx="488.2" cy="147.9" r="1.7"/>
<circle cx="488.3" cy="148.2" r="1.7"/>
<circle cx="488.7" cy="147.6" r="1.7"/>
<circle cx="488.8" cy="148.6" r="1.7"/>
<circle cx="489.2" cy="147.7" r="1.7"/>
<circle cx="490.5" cy="145.7" r="1.7"/>
<circle cx="491.0" cy="145.2" r="1.7"/>
<circle cx="491.2" cy="145.7" r="1.7"/>
<circle cx="491.3" cy="146.1" r="1.7"/>
<circle cx="491.7" cy="143.9" r="1.7"/>
<circle cx="491.8" cy="144.9" r="1.7"/>
<circle cx="492.0" cy="145.7" r="1.7"/>
<circle cx="492.5" cy="145.9" r="1.7"/>
<circle cx="492.6" cy="144.4" r="1.7"/>
<circle cx="493.2" cy="144.7" r="1.7"/>
<circle cx="493.4" cy="144.0" r="1.7"/>
<circle cx="493.7" cy="142.6" r="1.7"/>
<circle cx="493.8" cy="144.2" r="1.7"/>
<circle cx="494.1" cy="143.5" r="1.7"/>
<circle cx="494.5" cy="143.0" r="1.7"/>
<circle cx="494.6" cy="141.8" r="1.7"/>
<circle cx="494.6" cy="141.5" r="1.7"/>
<circle cx="494.9" cy="145.0" r="1.7"/>
<circle cx="495.0" cy="142.2" r="1.7"/>
<circle cx="495.3" cy="142.1" r="1.7"/>
<circle cx="495.5" cy="142.6" r="1.7"/>
<circle cx="495.5" cy="141.5" r="1.7"/>
<circle cx="495.8" cy="142.0" r="1.7"/>
<circle cx="496.0" cy="140.9" r="1.7"/>
<circle cx="496.1" cy="143.1" r="1.7"/>
<circle cx="496.4" cy="143.1" r="1.7"/>
<circle cx="496.4" cy="140.4" r="1.7"/>
<circle cx="496.6" cy="143.3" r="1.7"/>
<circle cx="496.5" cy="142.4" r="1.7"/>
<circle cx="496.8" cy="141.2" r="1.7"/>
<circle cx="497.1" cy="140.4" r="1.7"/>
<circle cx="497.1" cy="142.1" r="1.7"/>
<circle cx="497.4" cy="140.6" r="1.7"/>
<circle cx="497.5" cy="140.0" r="1.7"/>
<circle cx="498.0" cy="140.0" r="1.7"/>
<circle cx="498.2" cy="139.2" r="1.7"/>
<circle cx="498.5" cy="140.3" r="1.7"/>
<circle cx="498.5" cy="139.9" r="1.7"/>
<circle cx="498.5" cy="141.3" r="1.7"/>
<circle cx="498.8" cy="141.1" r="1.7"/>
<circle cx="498.9" cy="138.5" r="1.7"/>
<circle cx="499.0" cy="139.5" r="1.7"/>
<circle cx="499.3" cy="139.0" r="1.7"/>
<circle cx="499.6" cy="141.1" r="1.7"/>
<circle cx="499.9" cy="140.0" r="1.7"/>
<circle cx="500.0" cy="139.4" r="1.7"/>
<circle cx="500.1" cy="138.3" r="1.7"/>
<circle cx="500.1" cy="137.5" r="1.7"/>
<circle cx="500.4" cy="137.2" r="1.7"/>
<circle cx="500.4" cy="138.9" r="1.7"/>
<circle cx="500.7" cy="136.8" r="1.7"/>
<circle cx="500.9" cy="140.2" r="1.7"/>
<circle cx="501.1" cy="137.6" r="1.7"/>
<circle cx="501.3" cy="137.2" r="1.7"/>
<circle cx="501.7" cy="137.1" r="1.7"/>
<circle cx="501.8" cy="138.1" r="1.7"/>
<circle cx="501.8" cy="139.7" r="1.7"/>
<circle cx="502.0" cy="137.6" r="1.7"/>
<circle cx="502.4" cy="140.9" r="1.7"/>
<circle cx="502.7" cy="137.7" r="1.7"/>
<circle cx="502.6" cy="137.2" r="1.7"/>
<circle cx="502.9" cy="137.5" r="1.7"/>
<circle cx="503.1" cy="140.5" r="1.7"/>
<circle cx="503.3" cy="137.1" r="1.7"/>
<circle cx="503.6" cy="136.5" r="1.7"/>
<circle cx="504.0" cy="135.6" r="1.7"/>
<circle cx="504.1" cy="137.0" r="1.7"/>
<circle cx="504.3" cy="136.4" r="1.7"/>
<circle cx="504.5" cy="137.1" r="1.7"/>
<circle cx="504.7" cy="137.8" r="1.7"/>
<circle cx="504.5" cy="135.7" r="1.7"/>
<circle cx="504.8" cy="134.8" r="1.7"/>
<circle cx="505.0" cy="134.8" r="1.7"/>
<circle cx="505.1" cy="136.6" r="1.7"/>
<circle cx="505.5" cy="136.1" r="1.7"/>
<circle cx="505.5" cy="136.0" r="1.7"/>
<circle cx="505.8" cy="133.3" r="1.7"/>
<circle cx="506.1" cy="134.3" r="1.7"/>
<circle cx="506.2" cy="134.7" r="1.7"/>
<circle cx="506.5" cy="134.8" r="1.7"/>
<circle cx="506.5" cy="134.5" r="1.7"/>
<circle cx="506.9" cy="134.3" r="1.7"/>
<circle cx="507.2" cy="133.4" r="1.7"/>
<circle cx="507.2" cy="133.2" r="1.7"/>
<circle cx="507.3" cy="133.1" r="1.7"/>
<circle cx="507.6" cy="133.3" r="1.7"/>
<circle cx="507.8" cy="135.0" r="1.7"/>
<circle cx="508.1" cy="133.0" r="1.7"/>
<circle cx="508.1" cy="132.7" r="1.7"/>
<circle cx="508.3" cy="131.6" r="1.7"/>
<circle cx="508.4" cy="133.1" r="1.7"/>
<circle cx="508.5" cy="134.1" r="1.7"/>
<circle cx="508.6" cy="132.3" r="1.7"/>
<circle cx="508.9" cy="132.2" r="1.7"/>
<circle cx="509.1" cy="132.4" r="1.7"/>
<circle cx="509.3" cy="130.9" r="1.7"/>
<circle cx="509.3" cy="132.0" r="1.7"/>
<circle cx="509.6" cy="133.0" r="1.7"/>
<circle cx="510.0" cy="133.3" r="1.7"/>
<circle cx="510.1" cy="132.0" r="1.7"/>
<circle cx="510.5" cy="129.2" r="1.7"/>
<circle cx="510.6" cy="133.2" r="1.7"/>
<circle cx="510.8" cy="130.1" r="1.7"/>
<circle cx="511.2" cy="129.3" r="1.7"/>
<circle cx="511.3" cy="129.4" r="1.7"/>
<circle cx="511.6" cy="130.6" r="1.7"/>
<circle cx="511.9" cy="129.4" r="1.7"/>
<circle cx="512.2" cy="130.3" r="1.7"/>
<circle cx="512.4" cy="128.8" r="1.7"/>
<circle cx="512.3" cy="127.8" r="1.7"/>
<circle cx="512.5" cy="128.8" r="1.7"/>
<circle cx="512.9" cy="128.8" r="1.7"/>
<circle cx="512.9" cy="128.8" r="1.7"/>
<circle cx="513.0" cy="129.8" r="1.7"/>
<circle cx="513.2" cy="128.1" r="1.7"/>
<circle cx="513.3" cy="128.6" r="1.7"/>
<circle cx="513.7" cy="129.2" r="1.7"/>
<circle cx="513.9" cy="128.0" r="1.7"/>
<circle cx="514.1" cy="128.8" r="1.7"/>
<circle cx="514.4" cy="127.3" r="1.7"/>
<circle cx="514.6" cy="127.3" r="1.7"/>
<circle cx="514.9" cy="126.7" r="1.7"/>
<circle cx="515.1" cy="123.9" r="1.7"/>
<circle cx="515.4" cy="125.5" r="1.7"/>
<circle cx="515.5" cy="125.9" r="1.7"/>
<circle cx="515.6" cy="126.2" r="1.7"/>
<circle cx="515.6" cy="124.6" r="1.7"/>
<circle cx="515.8" cy="126.7" r="1.7"/>
<circle cx="515.9" cy="125.1" r="1.7"/>
<circle cx="516.2" cy="124.7" r="1.7"/>
<circle cx="516.4" cy="124.8" r="1.7"/>
<circle cx="516.6" cy="125.8" r="1.7"/>
<circle cx="516.8" cy="123.6" r="1.7"/>
<circle cx="517.2" cy="125.6" r="1.7"/>
<circle cx="517.3" cy="125.1" r="1.7"/>
<circle cx="517.6" cy="124.2" r="1.7"/>
<circle cx="517.8" cy="123.6" r="1.7"/>
<circle cx="517.9" cy="124.1" r="1.7"/>
<circle cx="518.1" cy="123.4" r="1.7"/>
<circle cx="518.3" cy="124.0" r="1.7"/>
<circle cx="518.7" cy="124.0" r="1.7"/>
<circle cx="518.6" cy="124.9" r="1.7"/>
<circle cx="518.8" cy="124.7" r="1.7"/>
<circle cx="519.1" cy="122.0" r="1.7"/>
<circle cx="519.3" cy="123.2" r="1.7"/>
<circle cx="519.7" cy="122.0" r="1.7"/>
<circle cx="519.9" cy="122.9" r="1.7"/>
<circle cx="520.1" cy="122.4" r="1.7"/>
<circle cx="520.4" cy="123.5" r="1.7"/>
<circle cx="520.4" cy="122.1" r="1.7"/>
<circle cx="520.5" cy="123.0" r="1.7"/>
<circle cx="520.8" cy="121.8" r="1.7"/>
<circle cx="521.1" cy="120.6" r="1.7"/>
<circle cx="521.3" cy="121.9" r="1.7"/>
<circle cx="521.5" cy="122.1" r="1.7"/>
<circle cx="521.5" cy="120.5" r="1.7"/>
<circle cx="521.6" cy="120.8" r="1.7"/>
<circle cx="521.8" cy="120.4" r="1.7"/>
<circle cx="522.1" cy="119.4" r="1.7"/>
<circle cx="522.1" cy="121.0" r="1.7"/>
<circle cx="522.5" cy="120.6" r="1.7"/>
<circle cx="522.7" cy="120.9" r="1.7"/>
<circle cx="523.0" cy="119.9" r="1.7"/>
<circle cx="523.2" cy="120.7" r="1.7"/>
<circle cx="523.4" cy="119.7" r="1.7"/>
<circle cx="523.5" cy="119.7" r="1.7"/>
<circle cx="523.9" cy="118.9" r="1.7"/>
<circle cx="524.1" cy="119.4" r="1.7"/>
<circle cx="524.4" cy="119.4" r="1.7"/>
<circle cx="524.7" cy="119.2" r="1.7"/>
<circle cx="524.8" cy="118.6" r="1.7"/>
<circle cx="524.9" cy="118.3" r="1.7"/>
<circle cx="525.0" cy="117.6" r="1.7"/>
<circle cx="525.4" cy="118.0" r="1.7"/>
<circle cx="525.6" cy="118.7" r="1.7"/>
<circle cx="525.9" cy="116.2" r="1.7"/>
<circle cx="526.0" cy="117.6" r="1.7"/>
<circle cx="526.3" cy="116.9" r="1.7"/>
<circle cx="526.6" cy="117.5" r="1.7"/>
<circle cx="526.8" cy="117.3" r="1.7"/>
<circle cx="526.8" cy="118.7" r="1.7"/>
<circle cx="527.1" cy="115.9" r="1.7"/>
<circle cx="527.4" cy="115.4" r="1.7"/>
<circle cx="527.6" cy="114.6" r="1.7"/>
<circle cx="527.9" cy="114.9" r="1.7"/>
<circle cx="528.2" cy="116.0" r="1.7"/>
<circle cx="528.4" cy="115.0" r="1.7"/>
<circle cx="528.7" cy="115.8" r="1.7"/>
<circle cx="528.8" cy="114.6" r="1.7"/>
<circle cx="529.2" cy="115.4" r="1.7"/>
<circle cx="529.3" cy="115.7" r="1.7"/>
<circle cx="529.7" cy="113.2" r="1.7"/>
<circle cx="530.0" cy="113.1" r="1.7"/>
<circle cx="530.2" cy="115.3" r="1.7"/>
<circle cx="530.4" cy="113.8" r="1.7"/>
<circle cx="530.7" cy="112.3" r="1.7"/>
<circle cx="530.8" cy="114.3" r="1.7"/>
<circle cx="531.0" cy="113.9" r="1.7"/>
<circle cx="531.4" cy="113.1" r="1.7"/>
<circle cx="531.7" cy="113.9" r="1.7"/>
<circle cx="531.6" cy="113.8" r="1.7"/>
<circle cx="531.9" cy="111.8" r="1.7"/>
<circle cx="532.0" cy="113.2" r="1.7"/>
<circle cx="532.4" cy="113.8" r="1.7"/>
<circle cx="532.7" cy="109.5" r="1.7"/>
<circle cx="532.9" cy="112.2" r="1.7"/>
<circle cx="533.2" cy="111.2" r="1.7"/>
<circle cx="533.4" cy="111.9" r="1.7"/>
<circle cx="533.5" cy="110.6" r="1.7"/>
<circle cx="533.8" cy="110.8" r="1.7"/>
<circle cx="534.2" cy="111.5" r="1.7"/>
<circle cx="534.0" cy="109.8" r="1.7"/>
<circle cx="534.5" cy="110.1" r="1.7"/>
<circle cx="534.5" cy="110.7" r="1.7"/>
<circle cx="534.8" cy="109.9" r="1.7"/>
<circle cx="535.1" cy="108.7" r="1.7"/>
<circle cx="535.4" cy="111.1" r="1.7"/>
<circle cx="535.6" cy="109.4" r="1.7"/>
<circle cx="536.0" cy="110.3" r="1.7"/>
<circle cx="536.0" cy="111.9" r="1.7"/>
<circle cx="536.4" cy="108.6" r="1.7"/>
<circle cx="536.5" cy="106.7" r="1.7"/>
<circle cx="537.0" cy="106.6" r="1.7"/>
<circle cx="537.2" cy="106.1" r="1.7"/>
<circle cx="537.0" cy="108.8" r="1.7"/>
<circle cx="537.3" cy="109.0" r="1.7"/>
<circle cx="537.6" cy="106.5" r="1.7"/>
<circle cx="537.5" cy="107.2" r="1.7"/>
<circle cx="538.0" cy="106.7" r="1.7"/>
<circle cx="538.0" cy="106.5" r="1.7"/>
<circle cx="538.2" cy="108.3" r="1.7"/>
<circle cx="538.4" cy="107.6" r="1.7"/>
<circle cx="538.7" cy="106.6" r="1.7"/>
<circle cx="538.8" cy="107.8" r="1.7"/>
<circle cx="538.9" cy="106.8" r="1.7"/>
<circle cx="539.1" cy="106.2" r="1.7"/>
<circle cx="539.4" cy="107.9" r="1.7"/>
<circle cx="539.3" cy="107.5" r="1.7"/>
<circle cx="539.6" cy="107.0" r="1.7"/>
<circle cx="539.6" cy="107.5" r="1.7"/>
<circle cx="539.9" cy="104.9" r="1.7"/>
<circle cx="540.1" cy="104.8" r="1.7"/>
<circle cx="540.4" cy="104.7" r="1.7"/>
<circle cx="540.7" cy="105.6" r="1.7"/>
<circle cx="540.9" cy="107.3" r="1.7"/>
<circle cx="541.0" cy="105.3" r="1.7"/>
<circle cx="541.4" cy="104.3" r="1.7"/>
<circle cx="541.6" cy="104.9" r="1.7"/>
<circle cx="541.9" cy="107.1" r="1.7"/>
<circle cx="542.1" cy="105.4" r="1.7"/>
<circle cx="542.1" cy="104.4" r="1.7"/>
<circle cx="542.4" cy="101.5" r="1.7"/>
<circle cx="542.6" cy="103.2" r="1.7"/>
<circle cx="542.9" cy="103.3" r="1.7"/>
<circle cx="543.2" cy="102.2" r="1.7"/>
<circle cx="543.3" cy="103.4" r="1.7"/>
<circle cx="543.7" cy="104.5" r="1.7"/>
<circle cx="543.7" cy="104.8" r="1.7"/>
<circle cx="543.9" cy="102.5" r="1.7"/>
<circle cx="544.2" cy="104.0" r="1.7"/>
<circle cx="544.3" cy="103.2" r="1.7"/>
<circle cx="544.5" cy="101.4" r="1.7"/>
<circle cx="544.8" cy="99.8" r="1.7"/>
<circle cx="544.8" cy="102.7" r="1.7"/>
<circle cx="545.0" cy="101.5" r="1.7"/>
<circle cx="545.4" cy="101.7" r="1.7"/>
<circle cx="545.7" cy="101.3" r="1.7"/>
<circle cx="546.0" cy="101.0" r="1.7"/>
<circle cx="546.2" cy="100.9" r="1.7"/>
<circle cx="546.3" cy="101.7" r="1.7"/>
<circle cx="546.7" cy="101.6" r="1.7"/>
<circle cx="546.9" cy="101.9" r="1.7"/>
<circle cx="547.1" cy="100.4" r="1.7"/>
<circle cx="547.3" cy="101.3" r="1.7"/>
<circle cx="547.6" cy="101.0" r="1.7"/>
<circle cx="547.7" cy="98.2" r="1.7"/>
<circle cx="547.8" cy="99.5" r="1.7"/>
<circle cx="548.1" cy="99.9" r="1.7"/>
<circle cx="548.3" cy="96.5" r="1.7"/>
<circle cx="548.6" cy="99.3" r="1.7"/>
<circle cx="548.9" cy="99.8" r="1.7"/>
<circle cx="549.2" cy="100.7" r="1.7"/>
<circle cx="549.4" cy="97.6" r="1.7"/>
<circle cx="549.7" cy="98.6" r="1.7"/>
<circle cx="549.6" cy="98.0" r="1.7"/>
<circle cx="549.9" cy="96.9" r="1.7"/>
<circle cx="550.2" cy="99.4" r="1.7"/>
<circle cx="550.3" cy="100.7" r="1.7"/>
<circle cx="550.6" cy="97.4" r="1.7"/>
<circle cx="550.7" cy="98.2" r="1.7"/>
<circle cx="551.0" cy="97.0" r="1.7"/>
<circle cx="551.1" cy="96.6" r="1.7"/>
<circle cx="551.2" cy="95.7" r="1.7"/>
<circle cx="551.4" cy="98.6" r="1.7"/>
<circle cx="551.6" cy="97.3" r="1.7"/>
<circle cx="551.8" cy="94.9" r="1.7"/>
<circle cx="552.2" cy="96.3" r="1.7"/>
<circle cx="552.5" cy="95.5" r="1.7"/>
<circle cx="552.7" cy="96.6" r="1.7"/>
<circle cx="553.0" cy="94.1" r="1.7"/>
<circle cx="553.0" cy="98.2" r="1.7"/>
<circle cx="553.1" cy="96.5" r="1.7"/>
<circle cx="553.3" cy="97.1" r="1.7"/>
<circle cx="553.5" cy="94.8" r="1.7"/>
<circle cx="553.9" cy="94.9" r="1.7"/>
<circle cx="554.1" cy="96.9" r="1.7"/>
<circle cx="554.5" cy="96.1" r="1.7"/>
<circle cx="554.7" cy="95.6" r="1.7"/>
<circle cx="554.8" cy="94.3" r="1.7"/>
<circle cx="555.1" cy="93.3" r="1.7"/>
<circle cx="555.4" cy="94.9" r="1.7"/>
<circle cx="555.3" cy="96.1" r="1.7"/>
<circle cx="555.6" cy="94.2" r="1.7"/>
<circle cx="555.9" cy="95.5" r="1.7"/>
<circle cx="556.2" cy="93.3" r="1.7"/>
<circle cx="556.4" cy="93.3" r="1.7"/>
<circle cx="556.3" cy="95.7" r="1.7"/>
<circle cx="556.5" cy="94.7" r="1.7"/>
<circle cx="556.8" cy="93.8" r="1.7"/>
<circle cx="557.2" cy="94.2" r="1.7"/>
<circle cx="557.4" cy="93.0" r="1.7"/>
<circle cx="557.6" cy="91.1" r="1.7"/>
<circle cx="557.9" cy="93.1" r="1.7"/>
<circle cx="558.2" cy="92.6" r="1.7"/>
<circle cx="558.3" cy="94.1" r="1.7"/>
<circle cx="558.7" cy="90.3" r="1.7"/>
<circle cx="558.9" cy="89.7" r="1.7"/>
<circle cx="559.1" cy="92.2" r="1.7"/>
<circle cx="559.3" cy="91.1" r="1.7"/>
<circle cx="559.7" cy="91.4" r="1.7"/>
<circle cx="559.8" cy="93.3" r="1.7"/>
<circle cx="560.2" cy="89.6" r="1.7"/>
<circle cx="560.3" cy="92.3" r="1.7"/>
<circle cx="560.7" cy="89.6" r="1.7"/>
<circle cx="561.0" cy="90.7" r="1.7"/>
<circle cx="561.2" cy="88.6" r="1.7"/>
<circle cx="561.3" cy="90.4" r="1.7"/>
<circle cx="561.7" cy="87.9" r="1.7"/>
<circle cx="561.8" cy="88.2" r="1.7"/>
<circle cx="562.0" cy="87.4" r="1.7"/>
<circle cx="562.3" cy="87.3" r="1.7"/>
<circle cx="562.6" cy="85.8" r="1.7"/>
<circle cx="562.9" cy="87.3" r="1.7"/>
<circle cx="563.0" cy="88.3" r="1.7"/>
<circle cx="563.4" cy="86.1" r="1.7"/>
<circle cx="563.7" cy="85.9" r="1.7"/>
<circle cx="563.8" cy="87.0" r="1.7"/>
<circle cx="564.1" cy="84.7" r="1.7"/>
<circle cx="564.3" cy="86.4" r="1.7"/>
<circle cx="564.6" cy="86.7" r="1.7"/>
<circle cx="564.9" cy="87.2" r="1.7"/>
<circle cx="565.2" cy="82.6" r="1.7"/>
<circle cx="565.4" cy="85.1" r="1.7"/>
<circle cx="565.7" cy="84.8" r="1.7"/>
<circle cx="566.0" cy="85.2" r="1.7"/>
<circle cx="566.2" cy="81.7" r="1.7"/>
<circle cx="566.5" cy="83.5" r="1.7"/>
<circle cx="566.6" cy="82.8" r="1.7"/>
<circle cx="566.9" cy="83.4" r="1.7"/>
<circle cx="567.2" cy="84.3" r="1.7"/>
<circle cx="567.4" cy="82.6" r="1.7"/>
<circle cx="567.6" cy="84.8" r="1.7"/>
<circle cx="567.9" cy="84.3" r="1.7"/>
<circle cx="568.1" cy="82.6" r="1.7"/>
<circle cx="568.4" cy="81.3" r="1.7"/>
<circle cx="568.7" cy="83.0" r="1.7"/>
<circle cx="569.0" cy="82.6" r="1.7"/>
<circle cx="569.2" cy="83.2" r="1.7"/>
<circle cx="569.7" cy="82.9" r="1.7"/>
<circle cx="570.4" cy="80.9" r="1.7"/>
<circle cx="570.7" cy="82.3" r="1.7"/>
<circle cx="571.0" cy="81.2" r="1.7"/>
<circle cx="571.1" cy="80.8" r="1.7"/>
<circle cx="571.4" cy="80.8" r="1.7"/>
<circle cx="571.6" cy="81.4" r="1.7"/>
<circle cx="572.2" cy="80.9" r="1.7"/>
<circle cx="572.5" cy="80.7" r="1.7"/>
<circle cx="573.4" cy="79.3" r="1.7"/>
<circle cx="573.9" cy="79.1" r="1.7"/>
<circle cx="492.5" cy="138.6" r="1.7"/>
<circle cx="494.0" cy="137.6" r="1.7"/>
<circle cx="495.6" cy="137.2" r="1.7"/>
<circle cx="497.2" cy="137.6" r="1.7"/>
<circle cx="491.0" cy="140.2" r="1.7"/>
<circle cx="431.4" cy="192.0" r="1.7"/>
<circle cx="458.0" cy="174.3" r="1.7"/>
<circle cx="460.5" cy="171.3" r="1.7"/>
<circle cx="461.3" cy="166.2" r="1.7"/>
<circle cx="466.7" cy="166.9" r="1.7"/>
<circle cx="470.4" cy="164.6" r="1.7"/>
<circle cx="470.7" cy="161.1" r="1.7"/>
<circle cx="474.7" cy="160.6" r="1.7"/>
<circle cx="479.0" cy="155.8" r="1.7"/>
<circle cx="480.1" cy="157.2" r="1.7"/>
<circle cx="536.5" cy="103.5" r="1.7"/>
<circle cx="558.9" cy="86.8" r="1.7"/>
<circle cx="564.4" cy="83.3" r="1.7"/>
<circle cx="574.4" cy="78.6" r="1.7"/>
<circle cx="577.8" cy="75.9" r="1.7"/>
<circle cx="582.5" cy="71.6" r="1.7"/>
<circle cx="586.1" cy="68.6" r="1.7"/>
<circle cx="587.8" cy="66.8" r="1.7"/>
<circle cx="589.2" cy="64.9" r="1.7"/>
<circle cx="591.2" cy="67.6" r="1.7"/>
<circle cx="597.6" cy="57.2" r="1.7"/>
<circle cx="601.6" cy="54.7" r="1.7"/>
<circle cx="605.7" cy="51.8" r="1.7"/>
<circle cx="606.6" cy="50.5" r="1.7"/>
<circle cx="610.0" cy="47.1" r="1.7"/>
<circle cx="611.3" cy="46.4" r="1.7"/>
<circle cx="613.3" cy="47.8" r="1.7"/>
<circle cx="616.9" cy="40.4" r="1.7"/>
<circle cx="617.4" cy="41.8" r="1.7"/>
<circle cx="618.0" cy="39.5" r="1.7"/>
<circle cx="620.0" cy="38.4" r="1.7"/>
<circle cx="621.6" cy="36.8" r="1.7"/>
<circle cx="624.7" cy="33.3" r="1.7"/>
</g>
<line x1="407.50" y1="214.00" x2="665.00" y2="6.50" stroke="#2a2aff" stroke-width="1" stroke-dasharray="2.7 2.309" stroke-dashoffset="0.45"/>
<line x1="405.50" y1="6.50" x2="665.00" y2="6.50" stroke="#1a1a1a" stroke-width="1" />
<line x1="407.50" y1="6.50" x2="407.50" y2="214.00" stroke="#1a1a1a" stroke-width="1" />
<line x1="407.50" y1="214.00" x2="665.00" y2="214.00" stroke="#1a1a1a" stroke-width="1" />
<line x1="665.00" y1="6.50" x2="665.00" y2="215.60" stroke="#1a1a1a" stroke-width="1" />
<line x1="407.50" y1="214.00" x2="407.50" y2="216.00" stroke="#1a1a1a" stroke-width="1" />
<line x1="407.50" y1="6.50" x2="407.50" y2="8.50" stroke="#1a1a1a" stroke-width="1" />
<line x1="405.50" y1="214.00" x2="407.50" y2="214.00" stroke="#1a1a1a" stroke-width="1" />
<line x1="663.00" y1="214.00" x2="665.00" y2="214.00" stroke="#1a1a1a" stroke-width="1" />
<line x1="427.31" y1="214.00" x2="427.31" y2="218.00" stroke="#1a1a1a" stroke-width="1" />
<line x1="427.31" y1="6.50" x2="427.31" y2="10.50" stroke="#1a1a1a" stroke-width="1" />
<line x1="403.50" y1="198.04" x2="407.50" y2="198.04" stroke="#1a1a1a" stroke-width="1" />
<line x1="661.00" y1="198.04" x2="665.00" y2="198.04" stroke="#1a1a1a" stroke-width="1" />
<line x1="447.12" y1="214.00" x2="447.12" y2="216.00" stroke="#1a1a1a" stroke-width="1" />
<line x1="447.12" y1="6.50" x2="447.12" y2="8.50" stroke="#1a1a1a" stroke-width="1" />
<line x1="405.50" y1="182.08" x2="407.50" y2="182.08" stroke="#1a1a1a" stroke-width="1" />
<line x1="663.00" y1="182.08" x2="665.00" y2="182.08" stroke="#1a1a1a" stroke-width="1" />
<line x1="466.92" y1="214.00" x2="466.92" y2="218.00" stroke="#1a1a1a" stroke-width="1" />
<line x1="466.92" y1="6.50" x2="466.92" y2="10.50" stroke="#1a1a1a" stroke-width="1" />
<line x1="403.50" y1="166.12" x2="407.50" y2="166.12" stroke="#1a1a1a" stroke-width="1" />
<line x1="661.00" y1="166.12" x2="665.00" y2="166.12" stroke="#1a1a1a" stroke-width="1" />
<line x1="486.73" y1="214.00" x2="486.73" y2="216.00" stroke="#1a1a1a" stroke-width="1" />
<line x1="486.73" y1="6.50" x2="486.73" y2="8.50" stroke="#1a1a1a" stroke-width="1" />
<line x1="405.50" y1="150.15" x2="407.50" y2="150.15" stroke="#1a1a1a" stroke-width="1" />
<line x1="663.00" y1="150.15" x2="665.00" y2="150.15" stroke="#1a1a1a" stroke-width="1" />
<line x1="506.54" y1="214.00" x2="506.54" y2="218.00" stroke="#1a1a1a" stroke-width="1" />
<line x1="506.54" y1="6.50" x2="506.54" y2="10.50" stroke="#1a1a1a" stroke-width="1" />
<line x1="403.50" y1="134.19" x2="407.50" y2="134.19" stroke="#1a1a1a" stroke-width="1" />
<line x1="661.00" y1="134.19" x2="665.00" y2="134.19" stroke="#1a1a1a" stroke-width="1" />
<line x1="526.35" y1="214.00" x2="526.35" y2="216.00" stroke="#1a1a1a" stroke-width="1" />
<line x1="526.35" y1="6.50" x2="526.35" y2="8.50" stroke="#1a1a1a" stroke-width="1" />
<line x1="405.50" y1="118.23" x2="407.50" y2="118.23" stroke="#1a1a1a" stroke-width="1" />
<line x1="663.00" y1="118.23" x2="665.00" y2="118.23" stroke="#1a1a1a" stroke-width="1" />
<line x1="546.15" y1="214.00" x2="546.15" y2="218.00" stroke="#1a1a1a" stroke-width="1" />
<line x1="546.15" y1="6.50" x2="546.15" y2="10.50" stroke="#1a1a1a" stroke-width="1" />
<line x1="403.50" y1="102.27" x2="407.50" y2="102.27" stroke="#1a1a1a" stroke-width="1" />
<line x1="661.00" y1="102.27" x2="665.00" y2="102.27" stroke="#1a1a1a" stroke-width="1" />
<line x1="565.96" y1="214.00" x2="565.96" y2="216.00" stroke="#1a1a1a" stroke-width="1" />
<line x1="565.96" y1="6.50" x2="565.96" y2="8.50" stroke="#1a1a1a" stroke-width="1" />
<line x1="405.50" y1="86.31" x2="407.50" y2="86.31" stroke="#1a1a1a" stroke-width="1" />
<line x1="663.00" y1="86.31" x2="665.00" y2="86.31" stroke="#1a1a1a" stroke-width="1" />
<line x1="585.77" y1="214.00" x2="585.77" y2="218.00" stroke="#1a1a1a" stroke-width="1" />
<line x1="585.77" y1="6.50" x2="585.77" y2="10.50" stroke="#1a1a1a" stroke-width="1" />
<line x1="403.50" y1="70.35" x2="407.50" y2="70.35" stroke="#1a1a1a" stroke-width="1" />
<line x1="661.00" y1="70.35" x2="665.00" y2="70.35" stroke="#1a1a1a" stroke-width="1" />
<line x1="605.58" y1="214.00" x2="605.58" y2="216.00" stroke="#1a1a1a" stroke-width="1" />
<line x1="605.58" y1="6.50" x2="605.58" y2="8.50" stroke="#1a1a1a" stroke-width="1" />
<line x1="405.50" y1="54.38" x2="407.50" y2="54.38" stroke="#1a1a1a" stroke-width="1" />
<line x1="663.00" y1="54.38" x2="665.00" y2="54.38" stroke="#1a1a1a" stroke-width="1" />
<line x1="625.38" y1="214.00" x2="625.38" y2="218.00" stroke="#1a1a1a" stroke-width="1" />
<line x1="625.38" y1="6.50" x2="625.38" y2="10.50" stroke="#1a1a1a" stroke-width="1" />
<line x1="403.50" y1="38.42" x2="407.50" y2="38.42" stroke="#1a1a1a" stroke-width="1" />
<line x1="661.00" y1="38.42" x2="665.00" y2="38.42" stroke="#1a1a1a" stroke-width="1" />
<line x1="645.19" y1="214.00" x2="645.19" y2="216.00" stroke="#1a1a1a" stroke-width="1" />
<line x1="645.19" y1="6.50" x2="645.19" y2="8.50" stroke="#1a1a1a" stroke-width="1" />
<line x1="405.50" y1="22.46" x2="407.50" y2="22.46" stroke="#1a1a1a" stroke-width="1" />
<line x1="663.00" y1="22.46" x2="665.00" y2="22.46" stroke="#1a1a1a" stroke-width="1" />
<line x1="665.00" y1="214.00" x2="665.00" y2="218.00" stroke="#1a1a1a" stroke-width="1" />
<line x1="665.00" y1="6.50" x2="665.00" y2="10.50" stroke="#1a1a1a" stroke-width="1" />
<line x1="403.50" y1="6.50" x2="407.50" y2="6.50" stroke="#1a1a1a" stroke-width="1" />
<line x1="661.00" y1="6.50" x2="665.00" y2="6.50" stroke="#1a1a1a" stroke-width="1" />
<text x="427.31" y="230.90" font-size="10.5" text-anchor="middle" >-1.0x10<tspan font-size="7.6" dy="-5.0">-4</tspan></text>
<text x="400.20" y="201.79" font-size="10.5" text-anchor="end" >-1.0x10<tspan font-size="7.6" dy="-5.0">-4</tspan></text>
<text x="466.92" y="230.90" font-size="10.5" text-anchor="middle" >-5.0x10<tspan font-size="7.6" dy="-5.0">-5</tspan></text>
<text x="400.20" y="169.87" font-size="10.5" text-anchor="end" >-5.0x10<tspan font-size="7.6" dy="-5.0">-5</tspan></text>
<text x="506.54" y="230.90" font-size="10.5" text-anchor="middle" >0.0</text>
<text x="400.20" y="137.94" font-size="10.5" text-anchor="end" >0.0</text>
<text x="546.15" y="230.90" font-size="10.5" text-anchor="middle" >5.0x10<tspan font-size="7.6" dy="-5.0">-5</tspan></text>
<text x="400.20" y="106.02" font-size="10.5" text-anchor="end" >5.0x10<tspan font-size="7.6" dy="-5.0">-5</tspan></text>
<text x="585.77" y="230.90" font-size="10.5" text-anchor="middle" >1.0x10<tspan font-size="7.6" dy="-5.0">-4</tspan></text>
<text x="400.20" y="74.10" font-size="10.5" text-anchor="end" >1.0x10<tspan font-size="7.6" dy="-5.0">-4</tspan></text>
<text x="625.38" y="230.90" font-size="10.5" text-anchor="middle" >1.5x10<tspan font-size="7.6" dy="-5.0">-4</tspan></text>
<text x="400.20" y="42.17" font-size="10.5" text-anchor="end" >1.5x10<tspan font-size="7.6" dy="-5.0">-4</tspan></text>
<text x="665.00" y="230.90" font-size="10.5" text-anchor="middle" >2.0x10<tspan font-size="7.6" dy="-5.0">-4</tspan></text>
<text x="400.20" y="10.25" font-size="10.5" text-anchor="end" >2.0x10<tspan font-size="7.6" dy="-5.0">-4</tspan></text>
<text x="536.55" y="249.50" font-size="10.85" text-anchor="middle" >DFT Stress σ<tspan font-size="7.4" dy="3.5">x</tspan><tspan dy="-3.5"> (eV/Å</tspan><tspan font-size="7.4" dy="-3.8">2</tspan><tspan dy="3.8">)</tspan></text>
<text transform="translate(351.3,110.1) rotate(-90)" font-size="10.85" text-anchor="middle">Model Stress σ<tspan font-size="7.4" dy="3.5">x</tspan><tspan dy="-3.5"> (eV/Å</tspan><tspan font-size="7.4" dy="-3.8">2</tspan><tspan dy="3.8">)</tspan></text>
<text x="413.90" y="25.80" font-size="14.4" text-anchor="start" letter-spacing="0.4">(b)</text>
</g>
<clipPath id="clipc"><rect x="0" y="261" width="339.8" height="261"/></clipPath>
<g clip-path="url(#clipc)">
<g fill="#ff0a0a">
<circle cx="140.0" cy="422.0" r="1.7"/>
<circle cx="140.3" cy="422.7" r="1.7"/>
<circle cx="140.7" cy="422.4" r="1.7"/>
<circle cx="141.1" cy="422.2" r="1.7"/>
<circle cx="141.7" cy="421.2" r="1.7"/>
<circle cx="142.0" cy="420.9" r="1.7"/>
<circle cx="142.3" cy="421.0" r="1.7"/>
<circle cx="142.6" cy="420.3" r="1.7"/>
<circle cx="143.6" cy="420.5" r="1.7"/>
<circle cx="143.9" cy="417.9" r="1.7"/>
<circle cx="144.7" cy="418.7" r="1.7"/>
<circle cx="145.0" cy="418.1" r="1.7"/>
<circle cx="145.3" cy="417.5" r="1.7"/>
<circle cx="146.8" cy="417.6" r="1.7"/>
<circle cx="147.1" cy="416.6" r="1.7"/>
<circle cx="147.5" cy="416.2" r="1.7"/>
<circle cx="147.7" cy="416.9" r="1.7"/>
<circle cx="148.2" cy="416.3" r="1.7"/>
<circle cx="148.4" cy="416.0" r="1.7"/>
<circle cx="148.8" cy="414.7" r="1.7"/>
<circle cx="149.2" cy="415.4" r="1.7"/>
<circle cx="149.4" cy="415.2" r="1.7"/>
<circle cx="149.9" cy="414.7" r="1.7"/>
<circle cx="150.2" cy="413.8" r="1.7"/>
<circle cx="150.3" cy="414.5" r="1.7"/>
<circle cx="150.7" cy="414.2" r="1.7"/>
<circle cx="151.1" cy="413.8" r="1.7"/>
<circle cx="151.3" cy="411.3" r="1.7"/>
<circle cx="151.6" cy="413.3" r="1.7"/>
<circle cx="152.0" cy="413.1" r="1.7"/>
<circle cx="152.2" cy="412.9" r="1.7"/>
<circle cx="152.3" cy="413.1" r="1.7"/>
<circle cx="152.6" cy="412.0" r="1.7"/>
<circle cx="153.1" cy="411.0" r="1.7"/>
<circle cx="153.4" cy="411.6" r="1.7"/>
<circle cx="153.5" cy="410.7" r="1.7"/>
<circle cx="153.9" cy="412.4" r="1.7"/>
<circle cx="154.0" cy="410.8" r="1.7"/>
<circle cx="154.3" cy="410.6" r="1.7"/>
<circle cx="154.6" cy="411.0" r="1.7"/>
<circle cx="154.9" cy="409.9" r="1.7"/>
<circle cx="155.2" cy="410.1" r="1.7"/>
<circle cx="155.3" cy="408.9" r="1.7"/>
<circle cx="155.6" cy="408.8" r="1.7"/>
<circle cx="155.8" cy="408.5" r="1.7"/>
<circle cx="156.0" cy="410.5" r="1.7"/>
<circle cx="156.3" cy="409.1" r="1.7"/>
<circle cx="156.5" cy="408.4" r="1.7"/>
<circle cx="156.9" cy="407.9" r="1.7"/>
<circle cx="157.1" cy="408.9" r="1.7"/>
<circle cx="157.3" cy="407.9" r="1.7"/>
<circle cx="157.5" cy="408.5" r="1.7"/>
<circle cx="157.8" cy="408.2" r="1.7"/>
<circle cx="158.0" cy="407.3" r="1.7"/>
<circle cx="158.1" cy="408.0" r="1.7"/>
<circle cx="158.5" cy="407.0" r="1.7"/>
<circle cx="158.6" cy="408.5" r="1.7"/>
<circle cx="158.8" cy="408.0" r="1.7"/>
<circle cx="159.2" cy="406.5" r="1.7"/>
<circle cx="159.3" cy="405.9" r="1.7"/>
<circle cx="159.7" cy="406.0" r="1.7"/>
<circle cx="160.0" cy="406.2" r="1.7"/>
<circle cx="160.2" cy="408.5" r="1.7"/>
<circle cx="160.3" cy="406.8" r="1.7"/>
<circle cx="160.7" cy="406.5" r="1.7"/>
<circle cx="161.0" cy="405.8" r="1.7"/>
<circle cx="161.0" cy="405.4" r="1.7"/>
<circle cx="161.4" cy="405.5" r="1.7"/>
<circle cx="161.5" cy="406.8" r="1.7"/>
<circle cx="161.9" cy="405.1" r="1.7"/>
<circle cx="162.2" cy="406.1" r="1.7"/>
<circle cx="162.3" cy="403.4" r="1.7"/>
<circle cx="162.5" cy="404.5" r="1.7"/>
<circle cx="163.0" cy="403.7" r="1.7"/>
<circle cx="163.1" cy="401.9" r="1.7"/>
<circle cx="163.5" cy="404.7" r="1.7"/>
<circle cx="163.7" cy="402.5" r="1.7"/>
<circle cx="163.7" cy="403.7" r="1.7"/>
<circle cx="164.0" cy="403.0" r="1.7"/>
<circle cx="164.1" cy="400.9" r="1.7"/>
<circle cx="164.4" cy="403.7" r="1.7"/>
<circle cx="164.7" cy="403.5" r="1.7"/>
<circle cx="164.8" cy="402.6" r="1.7"/>
<circle cx="165.0" cy="403.2" r="1.7"/>
<circle cx="165.1" cy="402.1" r="1.7"/>
<circle cx="165.3" cy="403.1" r="1.7"/>
<circle cx="165.6" cy="401.7" r="1.7"/>
<circle cx="165.9" cy="403.6" r="1.7"/>
<circle cx="166.2" cy="401.2" r="1.7"/>
<circle cx="166.1" cy="403.1" r="1.7"/>
<circle cx="166.3" cy="401.7" r="1.7"/>
<circle cx="166.4" cy="400.1" r="1.7"/>
<circle cx="166.7" cy="400.6" r="1.7"/>
<circle cx="166.8" cy="400.9" r="1.7"/>
<circle cx="167.1" cy="400.7" r="1.7"/>
<circle cx="167.4" cy="399.9" r="1.7"/>
<circle cx="167.7" cy="398.9" r="1.7"/>
<circle cx="167.8" cy="399.6" r="1.7"/>
<circle cx="168.2" cy="398.7" r="1.7"/>
<circle cx="168.5" cy="398.8" r="1.7"/>
<circle cx="168.5" cy="399.1" r="1.7"/>
<circle cx="168.9" cy="398.8" r="1.7"/>
<circle cx="169.2" cy="399.3" r="1.7"/>
<circle cx="169.3" cy="398.5" r="1.7"/>
<circle cx="169.5" cy="399.3" r="1.7"/>
<circle cx="170.0" cy="397.7" r="1.7"/>
<circle cx="170.1" cy="396.8" r="1.7"/>
<circle cx="170.3" cy="398.0" r="1.7"/>
<circle cx="170.5" cy="397.4" r="1.7"/>
<circle cx="170.8" cy="396.1" r="1.7"/>
<circle cx="171.2" cy="399.2" r="1.7"/>
<circle cx="171.3" cy="398.1" r="1.7"/>
<circle cx="171.5" cy="397.7" r="1.7"/>
<circle cx="171.8" cy="395.1" r="1.7"/>
<circle cx="172.1" cy="396.5" r="1.7"/>
<circle cx="172.1" cy="396.9" r="1.7"/>
<circle cx="172.3" cy="395.5" r="1.7"/>
<circle cx="172.5" cy="396.9" r="1.7"/>
<circle cx="172.5" cy="397.8" r="1.7"/>
<circle cx="172.9" cy="398.0" r="1.7"/>
<circle cx="173.1" cy="395.8" r="1.7"/>
<circle cx="173.5" cy="397.4" r="1.7"/>
<circle cx="173.6" cy="395.0" r="1.7"/>
<circle cx="173.8" cy="393.2" r="1.7"/>
<circle cx="173.8" cy="393.2" r="1.7"/>
<circle cx="174.0" cy="394.2" r="1.7"/>
<circle cx="174.4" cy="396.4" r="1.7"/>
<circle cx="174.6" cy="395.8" r="1.7"/>
<circle cx="174.8" cy="393.5" r="1.7"/>
<circle cx="175.2" cy="394.3" r="1.7"/>
<circle cx="175.5" cy="394.9" r="1.7"/>
<circle cx="175.6" cy="393.5" r="1.7"/>
<circle cx="175.9" cy="393.8" r="1.7"/>
<circle cx="176.1" cy="393.3" r="1.7"/>
<circle cx="176.5" cy="392.6" r="1.7"/>
<circle cx="176.6" cy="393.0" r="1.7"/>
<circle cx="176.9" cy="391.5" r="1.7"/>
<circle cx="177.0" cy="392.9" r="1.7"/>
<circle cx="177.4" cy="394.6" r="1.7"/>
<circle cx="177.7" cy="391.7" r="1.7"/>
<circle cx="177.9" cy="392.6" r="1.7"/>
<circle cx="178.2" cy="392.8" r="1.7"/>
<circle cx="178.3" cy="390.8" r="1.7"/>
<circle cx="178.5" cy="390.3" r="1.7"/>
<circle cx="178.9" cy="390.7" r="1.7"/>
<circle cx="179.1" cy="390.6" r="1.7"/>
<circle cx="179.4" cy="388.4" r="1.7"/>
<circle cx="179.7" cy="391.2" r="1.7"/>
<circle cx="180.0" cy="390.6" r="1.7"/>
<circle cx="180.2" cy="390.8" r="1.7"/>
<circle cx="180.5" cy="390.3" r="1.7"/>
<circle cx="180.7" cy="390.1" r="1.7"/>
<circle cx="180.6" cy="389.3" r="1.7"/>
<circle cx="180.9" cy="390.4" r="1.7"/>
<circle cx="181.1" cy="389.5" r="1.7"/>
<circle cx="181.3" cy="388.9" r="1.7"/>
<circle cx="181.6" cy="389.2" r="1.7"/>
<circle cx="181.5" cy="389.1" r="1.7"/>
<circle cx="182.0" cy="388.5" r="1.7"/>
<circle cx="182.2" cy="388.9" r="1.7"/>
<circle cx="182.3" cy="388.9" r="1.7"/>
<circle cx="182.6" cy="388.9" r="1.7"/>
<circle cx="182.8" cy="386.4" r="1.7"/>
<circle cx="183.1" cy="387.9" r="1.7"/>
<circle cx="183.5" cy="386.8" r="1.7"/>
<circle cx="183.7" cy="385.5" r="1.7"/>
<circle cx="183.8" cy="389.1" r="1.7"/>
<circle cx="184.2" cy="387.6" r="1.7"/>
<circle cx="184.4" cy="385.6" r="1.7"/>
<circle cx="184.6" cy="387.3" r="1.7"/>
<circle cx="184.6" cy="386.9" r="1.7"/>
<circle cx="184.8" cy="384.9" r="1.7"/>
<circle cx="185.1" cy="386.9" r="1.7"/>
<circle cx="185.5" cy="386.0" r="1.7"/>
<circle cx="185.6" cy="385.6" r="1.7"/>
<circle cx="185.9" cy="384.7" r="1.7"/>
<circle cx="186.2" cy="387.1" r="1.7"/>
<circle cx="186.2" cy="385.4" r="1.7"/>
<circle cx="186.3" cy="386.1" r="1.7"/>
<circle cx="186.6" cy="383.7" r="1.7"/>
<circle cx="186.9" cy="383.8" r="1.7"/>
<circle cx="186.9" cy="385.0" r="1.7"/>
<circle cx="187.0" cy="385.1" r="1.7"/>
<circle cx="187.4" cy="382.2" r="1.7"/>
<circle cx="187.7" cy="384.7" r="1.7"/>
<circle cx="187.9" cy="383.9" r="1.7"/>
<circle cx="188.2" cy="383.4" r="1.7"/>
<circle cx="188.4" cy="385.7" r="1.7"/>
<circle cx="188.7" cy="382.5" r="1.7"/>
<circle cx="188.9" cy="382.7" r="1.7"/>
<circle cx="189.2" cy="381.9" r="1.7"/>
<circle cx="189.1" cy="384.9" r="1.7"/>
<circle cx="189.4" cy="381.3" r="1.7"/>
<circle cx="189.5" cy="383.4" r="1.7"/>
<circle cx="189.6" cy="382.0" r="1.7"/>
<circle cx="189.9" cy="383.1" r="1.7"/>
<circle cx="190.2" cy="382.2" r="1.7"/>
<circle cx="190.4" cy="381.3" r="1.7"/>
<circle cx="190.5" cy="381.8" r="1.7"/>
<circle cx="191.0" cy="381.7" r="1.7"/>
<circle cx="191.1" cy="382.5" r="1.7"/>
<circle cx="191.3" cy="383.3" r="1.7"/>
<circle cx="191.6" cy="381.9" r="1.7"/>
<circle cx="191.8" cy="380.5" r="1.7"/>
<circle cx="192.2" cy="379.5" r="1.7"/>
<circle cx="192.2" cy="381.7" r="1.7"/>
<circle cx="192.4" cy="379.9" r="1.7"/>
<circle cx="192.5" cy="378.6" r="1.7"/>
<circle cx="192.8" cy="378.9" r="1.7"/>
<circle cx="193.1" cy="378.5" r="1.7"/>
<circle cx="193.4" cy="380.1" r="1.7"/>
<circle cx="193.6" cy="378.1" r="1.7"/>
<circle cx="193.8" cy="379.7" r="1.7"/>
<circle cx="193.9" cy="377.6" r="1.7"/>
<circle cx="194.0" cy="378.7" r="1.7"/>
<circle cx="194.3" cy="377.4" r="1.7"/>
<circle cx="194.3" cy="379.3" r="1.7"/>
<circle cx="194.5" cy="380.0" r="1.7"/>
<circle cx="195.0" cy="378.2" r="1.7"/>
<circle cx="195.1" cy="377.1" r="1.7"/>
<circle cx="195.4" cy="378.8" r="1.7"/>
<circle cx="195.5" cy="377.8" r="1.7"/>
<circle cx="195.7" cy="378.7" r="1.7"/>
<circle cx="196.0" cy="375.1" r="1.7"/>
<circle cx="196.1" cy="377.9" r="1.7"/>
<circle cx="196.5" cy="377.7" r="1.7"/>
<circle cx="196.7" cy="376.7" r="1.7"/>
<circle cx="197.0" cy="375.1" r="1.7"/>
<circle cx="197.2" cy="377.2" r="1.7"/>
<circle cx="197.3" cy="375.4" r="1.7"/>
<circle cx="197.3" cy="376.5" r="1.7"/>
<circle cx="197.7" cy="376.7" r="1.7"/>
<circle cx="197.9" cy="376.9" r="1.7"/>
<circle cx="197.8" cy="376.8" r="1.7"/>
<circle cx="198.2" cy="375.6" r="1.7"/>
<circle cx="198.5" cy="375.0" r="1.7"/>
<circle cx="198.6" cy="375.0" r="1.7"/>
<circle cx="198.6" cy="375.9" r="1.7"/>
<circle cx="198.8" cy="376.6" r="1.7"/>
<circle cx="198.9" cy="374.6" r="1.7"/>
<circle cx="199.0" cy="373.8" r="1.7"/>
<circle cx="199.0" cy="373.8" r="1.7"/>
<circle cx="199.3" cy="374.3" r="1.7"/>
<circle cx="199.6" cy="375.7" r="1.7"/>
<circle cx="199.8" cy="372.1" r="1.7"/>
<circle cx="200.1" cy="374.3" r="1.7"/>
<circle cx="200.5" cy="372.9" r="1.7"/>
<circle cx="200.7" cy="375.2" r="1.7"/>
<circle cx="201.0" cy="371.9" r="1.7"/>
<circle cx="201.1" cy="373.9" r="1.7"/>
<circle cx="201.4" cy="373.3" r="1.7"/>
<circle cx="201.5" cy="371.4" r="1.7"/>
<circle cx="201.7" cy="371.9" r="1.7"/>
<circle cx="201.8" cy="373.4" r="1.7"/>
<circle cx="202.0" cy="371.3" r="1.7"/>
<circle cx="202.2" cy="372.6" r="1.7"/>
<circle cx="202.4" cy="371.3" r="1.7"/>
<circle cx="202.4" cy="371.8" r="1.7"/>
<circle cx="202.7" cy="372.2" r="1.7"/>
<circle cx="202.9" cy="372.1" r="1.7"/>
<circle cx="203.1" cy="371.2" r="1.7"/>
<circle cx="203.4" cy="371.5" r="1.7"/>
<circle cx="203.6" cy="371.9" r="1.7"/>
<circle cx="204.0" cy="369.6" r="1.7"/>
<circle cx="204.2" cy="368.4" r="1.7"/>
<circle cx="204.4" cy="369.1" r="1.7"/>
<circle cx="204.3" cy="371.3" r="1.7"/>
<circle cx="204.6" cy="368.2" r="1.7"/>
<circle cx="205.0" cy="370.4" r="1.7"/>
<circle cx="204.9" cy="371.8" r="1.7"/>
<circle cx="205.2" cy="369.8" r="1.7"/>
<circle cx="205.4" cy="370.5" r="1.7"/>
<circle cx="205.7" cy="368.4" r="1.7"/>
<circle cx="205.9" cy="369.0" r="1.7"/>
<circle cx="205.9" cy="369.1" r="1.7"/>
<circle cx="206.2" cy="368.7" r="1.7"/>
<circle cx="206.2" cy="369.4" r="1.7"/>
<circle cx="206.4" cy="368.6" r="1.7"/>
<circle cx="206.7" cy="367.4" r="1.7"/>
<circle cx="206.8" cy="369.2" r="1.7"/>
<circle cx="207.2" cy="368.6" r="1.7"/>
<circle cx="207.5" cy="367.3" r="1.7"/>
<circle cx="207.6" cy="366.8" r="1.7"/>
<circle cx="207.9" cy="370.8" r="1.7"/>
<circle cx="208.0" cy="369.4" r="1.7"/>
<circle cx="208.2" cy="366.9" r="1.7"/>
<circle cx="208.4" cy="366.5" r="1.7"/>
<circle cx="208.6" cy="367.5" r="1.7"/>
<circle cx="209.0" cy="368.0" r="1.7"/>
<circle cx="209.2" cy="366.4" r="1.7"/>
<circle cx="209.4" cy="366.1" r="1.7"/>
<circle cx="209.6" cy="365.2" r="1.7"/>
<circle cx="209.9" cy="366.0" r="1.7"/>
<circle cx="210.1" cy="366.4" r="1.7"/>
<circle cx="210.4" cy="366.4" r="1.7"/>
<circle cx="210.7" cy="365.4" r="1.7"/>
<circle cx="210.9" cy="365.6" r="1.7"/>
<circle cx="211.0" cy="364.8" r="1.7"/>
<circle cx="211.1" cy="364.7" r="1.7"/>
<circle cx="211.3" cy="365.9" r="1.7"/>
<circle cx="211.6" cy="365.6" r="1.7"/>
<circle cx="211.8" cy="363.9" r="1.7"/>
<circle cx="212.2" cy="363.7" r="1.7"/>
<circle cx="212.3" cy="362.0" r="1.7"/>
<circle cx="212.3" cy="364.1" r="1.7"/>
<circle cx="212.5" cy="362.6" r="1.7"/>
<circle cx="213.0" cy="366.3" r="1.7"/>
<circle cx="213.0" cy="363.6" r="1.7"/>
<circle cx="213.4" cy="363.3" r="1.7"/>
<circle cx="213.5" cy="362.0" r="1.7"/>
<circle cx="213.7" cy="363.1" r="1.7"/>
<circle cx="213.6" cy="363.4" r="1.7"/>
<circle cx="214.0" cy="361.5" r="1.7"/>
<circle cx="214.1" cy="362.4" r="1.7"/>
<circle cx="214.3" cy="360.3" r="1.7"/>
<circle cx="214.5" cy="361.0" r="1.7"/>
<circle cx="214.9" cy="360.1" r="1.7"/>
<circle cx="215.0" cy="361.7" r="1.7"/>
<circle cx="215.3" cy="361.1" r="1.7"/>
<circle cx="215.7" cy="360.6" r="1.7"/>
<circle cx="215.7" cy="360.5" r="1.7"/>
<circle cx="215.8" cy="360.2" r="1.7"/>
<circle cx="216.2" cy="360.7" r="1.7"/>
<circle cx="216.4" cy="360.2" r="1.7"/>
<circle cx="216.3" cy="360.0" r="1.7"/>
<circle cx="216.5" cy="359.9" r="1.7"/>
<circle cx="216.9" cy="360.3" r="1.7"/>
<circle cx="217.1" cy="360.9" r="1.7"/>
<circle cx="217.1" cy="358.8" r="1.7"/>
<circle cx="217.4" cy="360.7" r="1.7"/>
<circle cx="217.6" cy="360.7" r="1.7"/>
<circle cx="217.5" cy="361.2" r="1.7"/>
<circle cx="218.0" cy="358.5" r="1.7"/>
<circle cx="218.0" cy="358.8" r="1.7"/>
<circle cx="218.2" cy="360.5" r="1.7"/>
<circle cx="218.4" cy="359.6" r="1.7"/>
<circle cx="218.3" cy="359.5" r="1.7"/>
<circle cx="218.5" cy="359.3" r="1.7"/>
<circle cx="219.0" cy="358.4" r="1.7"/>
<circle cx="219.1" cy="358.2" r="1.7"/>
<circle cx="219.3" cy="359.2" r="1.7"/>
<circle cx="219.4" cy="358.9" r="1.7"/>
<circle cx="219.7" cy="355.8" r="1.7"/>
<circle cx="220.0" cy="358.5" r="1.7"/>
<circle cx="220.0" cy="356.0" r="1.7"/>
<circle cx="220.2" cy="357.0" r="1.7"/>
<circle cx="220.4" cy="356.7" r="1.7"/>
<circle cx="220.6" cy="356.1" r="1.7"/>
<circle cx="220.6" cy="356.9" r="1.7"/>
<circle cx="220.9" cy="356.4" r="1.7"/>
<circle cx="221.1" cy="356.7" r="1.7"/>
<circle cx="221.5" cy="355.8" r="1.7"/>
<circle cx="221.5" cy="356.5" r="1.7"/>
<circle cx="221.5" cy="357.4" r="1.7"/>
<circle cx="221.9" cy="359.4" r="1.7"/>
<circle cx="222.0" cy="354.9" r="1.7"/>
<circle cx="222.3" cy="355.4" r="1.7"/>
<circle cx="222.6" cy="357.3" r="1.7"/>
<circle cx="223.0" cy="354.6" r="1.7"/>
<circle cx="223.2" cy="356.9" r="1.7"/>
<circle cx="223.4" cy="354.1" r="1.7"/>
<circle cx="223.4" cy="354.5" r="1.7"/>
<circle cx="223.5" cy="355.6" r="1.7"/>
<circle cx="223.5" cy="354.4" r="1.7"/>
<circle cx="224.0" cy="353.3" r="1.7"/>
<circle cx="224.0" cy="354.8" r="1.7"/>
<circle cx="224.2" cy="355.7" r="1.7"/>
<circle cx="224.4" cy="353.6" r="1.7"/>
<circle cx="224.7" cy="353.9" r="1.7"/>
<circle cx="224.8" cy="353.3" r="1.7"/>
<circle cx="224.9" cy="353.2" r="1.7"/>
<circle cx="225.2" cy="353.4" r="1.7"/>
<circle cx="225.4" cy="352.7" r="1.7"/>
<circle cx="225.6" cy="352.5" r="1.7"/>
<circle cx="225.8" cy="353.2" r="1.7"/>
<circle cx="226.1" cy="352.7" r="1.7"/>
<circle cx="226.2" cy="352.6" r="1.7"/>
<circle cx="226.4" cy="350.6" r="1.7"/>
<circle cx="226.4" cy="352.0" r="1.7"/>
<circle cx="226.6" cy="352.9" r="1.7"/>
<circle cx="226.5" cy="353.9" r="1.7"/>
<circle cx="226.8" cy="352.1" r="1.7"/>
<circle cx="227.2" cy="352.8" r="1.7"/>
<circle cx="227.1" cy="351.7" r="1.7"/>
<circle cx="227.3" cy="351.9" r="1.7"/>
<circle cx="227.7" cy="351.8" r="1.7"/>
<circle cx="227.7" cy="351.9" r="1.7"/>
<circle cx="227.8" cy="350.3" r="1.7"/>
<circle cx="228.2" cy="350.7" r="1.7"/>
<circle cx="228.4" cy="350.2" r="1.7"/>
<circle cx="228.6" cy="351.4" r="1.7"/>
<circle cx="229.0" cy="350.5" r="1.7"/>
<circle cx="229.0" cy="349.7" r="1.7"/>
<circle cx="229.4" cy="350.2" r="1.7"/>
<circle cx="229.6" cy="348.8" r="1.7"/>
<circle cx="229.8" cy="348.7" r="1.7"/>
<circle cx="230.0" cy="348.4" r="1.7"/>
<circle cx="230.5" cy="350.0" r="1.7"/>
<circle cx="230.5" cy="347.6" r="1.7"/>
<circle cx="231.0" cy="348.0" r="1.7"/>
<circle cx="231.2" cy="350.4" r="1.7"/>
<circle cx="231.3" cy="347.8" r="1.7"/>
<circle cx="231.7" cy="347.4" r="1.7"/>
<circle cx="231.8" cy="348.1" r="1.7"/>
<circle cx="232.1" cy="347.4" r="1.7"/>
<circle cx="232.3" cy="347.6" r="1.7"/>
<circle cx="232.7" cy="346.0" r="1.7"/>
<circle cx="232.8" cy="347.3" r="1.7"/>
<circle cx="233.1" cy="348.2" r="1.7"/>
<circle cx="233.4" cy="345.7" r="1.7"/>
<circle cx="233.7" cy="346.5" r="1.7"/>
<circle cx="233.8" cy="345.5" r="1.7"/>
<circle cx="234.2" cy="345.7" r="1.7"/>
<circle cx="234.3" cy="346.0" r="1.7"/>
<circle cx="234.7" cy="346.7" r="1.7"/>
<circle cx="235.0" cy="344.7" r="1.7"/>
<circle cx="235.1" cy="345.7" r="1.7"/>
<circle cx="235.4" cy="345.2" r="1.7"/>
<circle cx="235.5" cy="345.0" r="1.7"/>
<circle cx="235.8" cy="345.6" r="1.7"/>
<circle cx="236.2" cy="345.3" r="1.7"/>
<circle cx="236.4" cy="344.9" r="1.7"/>
<circle cx="236.7" cy="343.1" r="1.7"/>
<circle cx="236.9" cy="345.6" r="1.7"/>
<circle cx="237.2" cy="343.4" r="1.7"/>
<circle cx="237.3" cy="343.1" r="1.7"/>
<circle cx="237.6" cy="344.8" r="1.7"/>
<circle cx="237.9" cy="342.0" r="1.7"/>
<circle cx="238.5" cy="341.2" r="1.7"/>
<circle cx="238.6" cy="343.1" r="1.7"/>
<circle cx="238.9" cy="341.3" r="1.7"/>
<circle cx="239.2" cy="342.2" r="1.7"/>
<circle cx="239.3" cy="343.5" r="1.7"/>
<circle cx="239.8" cy="340.8" r="1.7"/>
<circle cx="240.0" cy="341.0" r="1.7"/>
<circle cx="240.5" cy="341.5" r="1.7"/>
<circle cx="240.9" cy="342.4" r="1.7"/>
<circle cx="241.2" cy="338.9" r="1.7"/>
<circle cx="241.3" cy="340.4" r="1.7"/>
<circle cx="241.7" cy="338.6" r="1.7"/>
<circle cx="242.2" cy="339.5" r="1.7"/>
<circle cx="242.5" cy="341.1" r="1.7"/>
<circle cx="242.9" cy="338.5" r="1.7"/>
<circle cx="243.5" cy="338.5" r="1.7"/>
<circle cx="243.9" cy="337.3" r="1.7"/>
<circle cx="244.2" cy="336.9" r="1.7"/>
<circle cx="245.3" cy="336.6" r="1.7"/>
<circle cx="245.8" cy="335.4" r="1.7"/>
<circle cx="98.4" cy="455.9" r="1.7"/>
<circle cx="109.2" cy="446.7" r="1.7"/>
<circle cx="110.7" cy="445.9" r="1.7"/>
<circle cx="116.8" cy="441.3" r="1.7"/>
<circle cx="117.5" cy="440.8" r="1.7"/>
<circle cx="122.5" cy="436.7" r="1.7"/>
<circle cx="126.8" cy="434.0" r="1.7"/>
<circle cx="128.3" cy="432.9" r="1.7"/>
<circle cx="130.2" cy="430.9" r="1.7"/>
<circle cx="131.4" cy="429.0" r="1.7"/>
<circle cx="133.7" cy="425.2" r="1.7"/>
<circle cx="135.2" cy="423.7" r="1.7"/>
<circle cx="138.3" cy="421.4" r="1.7"/>
<circle cx="140.6" cy="420.2" r="1.7"/>
<circle cx="143.0" cy="419.0" r="1.7"/>
<circle cx="145.2" cy="416.8" r="1.7"/>
<circle cx="147.0" cy="415.5" r="1.7"/>
<circle cx="149.0" cy="412.2" r="1.7"/>
<circle cx="150.5" cy="411.0" r="1.7"/>
<circle cx="238.5" cy="340.0" r="1.7"/>
<circle cx="242.5" cy="336.2" r="1.7"/>
<circle cx="243.5" cy="335.0" r="1.7"/>
<circle cx="248.5" cy="331.8" r="1.7"/>
<circle cx="251.5" cy="330.8" r="1.7"/>
<circle cx="255.5" cy="328.5" r="1.7"/>
<circle cx="240.8" cy="337.4" r="1.7"/>
<circle cx="245.1" cy="333.1" r="1.7"/>
<circle cx="247.7" cy="337.4" r="1.7"/>
<circle cx="250.1" cy="329.5" r="1.7"/>
<circle cx="253.4" cy="328.8" r="1.7"/>
<circle cx="253.7" cy="332.8" r="1.7"/>
<circle cx="258.8" cy="327.1" r="1.7"/>
<circle cx="263.5" cy="319.5" r="1.7"/>
<circle cx="265.2" cy="320.2" r="1.7"/>
<circle cx="263.5" cy="324.5" r="1.7"/>
<circle cx="265.0" cy="323.8" r="1.7"/>
<circle cx="268.1" cy="319.5" r="1.7"/>
<circle cx="269.3" cy="316.3" r="1.7"/>
<circle cx="270.0" cy="316.4" r="1.7"/>
<circle cx="276.4" cy="310.8" r="1.7"/>
<circle cx="277.0" cy="313.3" r="1.7"/>
<circle cx="285.0" cy="305.6" r="1.7"/>
<circle cx="289.4" cy="302.3" r="1.7"/>
</g>
<line x1="67.00" y1="481.50" x2="324.50" y2="273.50" stroke="#2a2aff" stroke-width="1" stroke-dasharray="2.7 2.309" stroke-dashoffset="0.45"/>
<line x1="65.00" y1="273.50" x2="324.50" y2="273.50" stroke="#1a1a1a" stroke-width="1" />
<line x1="67.00" y1="273.50" x2="67.00" y2="481.50" stroke="#1a1a1a" stroke-width="1" />
<line x1="67.00" y1="481.50" x2="324.50" y2="481.50" stroke="#1a1a1a" stroke-width="1" />
<line x1="324.50" y1="273.50" x2="324.50" y2="483.10" stroke="#1a1a1a" stroke-width="1" />
<line x1="67.00" y1="481.50" x2="67.00" y2="483.50" stroke="#1a1a1a" stroke-width="1" />
<line x1="67.00" y1="273.50" x2="67.00" y2="275.50" stroke="#1a1a1a" stroke-width="1" />
<line x1="65.00" y1="481.50" x2="67.00" y2="481.50" stroke="#1a1a1a" stroke-width="1" />
<line x1="322.50" y1="481.50" x2="324.50" y2="481.50" stroke="#1a1a1a" stroke-width="1" />
<line x1="86.81" y1="481.50" x2="86.81" y2="485.50" stroke="#1a1a1a" stroke-width="1" />
<line x1="86.81" y1="273.50" x2="86.81" y2="277.50" stroke="#1a1a1a" stroke-width="1" />
<line x1="63.00" y1="465.50" x2="67.00" y2="465.50" stroke="#1a1a1a" stroke-width="1" />
<line x1="320.50" y1="465.50" x2="324.50" y2="465.50" stroke="#1a1a1a" stroke-width="1" />
<line x1="106.62" y1="481.50" x2="106.62" y2="483.50" stroke="#1a1a1a" stroke-width="1" />
<line x1="106.62" y1="273.50" x2="106.62" y2="275.50" stroke="#1a1a1a" stroke-width="1" />
<line x1="65.00" y1="449.50" x2="67.00" y2="449.50" stroke="#1a1a1a" stroke-width="1" />
<line x1="322.50" y1="449.50" x2="324.50" y2="449.50" stroke="#1a1a1a" stroke-width="1" />
<line x1="126.42" y1="481.50" x2="126.42" y2="485.50" stroke="#1a1a1a" stroke-width="1" />
<line x1="126.42" y1="273.50" x2="126.42" y2="277.50" stroke="#1a1a1a" stroke-width="1" />
<line x1="63.00" y1="433.50" x2="67.00" y2="433.50" stroke="#1a1a1a" stroke-width="1" />
<line x1="320.50" y1="433.50" x2="324.50" y2="433.50" stroke="#1a1a1a" stroke-width="1" />
<line x1="146.23" y1="481.50" x2="146.23" y2="483.50" stroke="#1a1a1a" stroke-width="1" />
<line x1="146.23" y1="273.50" x2="146.23" y2="275.50" stroke="#1a1a1a" stroke-width="1" />
<line x1="65.00" y1="417.50" x2="67.00" y2="417.50" stroke="#1a1a1a" stroke-width="1" />
<line x1="322.50" y1="417.50" x2="324.50" y2="417.50" stroke="#1a1a1a" stroke-width="1" />
<line x1="166.04" y1="481.50" x2="166.04" y2="485.50" stroke="#1a1a1a" stroke-width="1" />
<line x1="166.04" y1="273.50" x2="166.04" y2="277.50" stroke="#1a1a1a" stroke-width="1" />
<line x1="63.00" y1="401.50" x2="67.00" y2="401.50" stroke="#1a1a1a" stroke-width="1" />
<line x1="320.50" y1="401.50" x2="324.50" y2="401.50" stroke="#1a1a1a" stroke-width="1" />
<line x1="185.85" y1="481.50" x2="185.85" y2="483.50" stroke="#1a1a1a" stroke-width="1" />
<line x1="185.85" y1="273.50" x2="185.85" y2="275.50" stroke="#1a1a1a" stroke-width="1" />
<line x1="65.00" y1="385.50" x2="67.00" y2="385.50" stroke="#1a1a1a" stroke-width="1" />
<line x1="322.50" y1="385.50" x2="324.50" y2="385.50" stroke="#1a1a1a" stroke-width="1" />
<line x1="205.65" y1="481.50" x2="205.65" y2="485.50" stroke="#1a1a1a" stroke-width="1" />
<line x1="205.65" y1="273.50" x2="205.65" y2="277.50" stroke="#1a1a1a" stroke-width="1" />
<line x1="63.00" y1="369.50" x2="67.00" y2="369.50" stroke="#1a1a1a" stroke-width="1" />
<line x1="320.50" y1="369.50" x2="324.50" y2="369.50" stroke="#1a1a1a" stroke-width="1" />
<line x1="225.46" y1="481.50" x2="225.46" y2="483.50" stroke="#1a1a1a" stroke-width="1" />
<line x1="225.46" y1="273.50" x2="225.46" y2="275.50" stroke="#1a1a1a" stroke-width="1" />
<line x1="65.00" y1="353.50" x2="67.00" y2="353.50" stroke="#1a1a1a" stroke-width="1" />
<line x1="322.50" y1="353.50" x2="324.50" y2="353.50" stroke="#1a1a1a" stroke-width="1" />
<line x1="245.27" y1="481.50" x2="245.27" y2="485.50" stroke="#1a1a1a" stroke-width="1" />
<line x1="245.27" y1="273.50" x2="245.27" y2="277.50" stroke="#1a1a1a" stroke-width="1" />
<line x1="63.00" y1="337.50" x2="67.00" y2="337.50" stroke="#1a1a1a" stroke-width="1" />
<line x1="320.50" y1="337.50" x2="324.50" y2="337.50" stroke="#1a1a1a" stroke-width="1" />
<line x1="265.08" y1="481.50" x2="265.08" y2="483.50" stroke="#1a1a1a" stroke-width="1" />
<line x1="265.08" y1="273.50" x2="265.08" y2="275.50" stroke="#1a1a1a" stroke-width="1" />
<line x1="65.00" y1="321.50" x2="67.00" y2="321.50" stroke="#1a1a1a" stroke-width="1" />
<line x1="322.50" y1="321.50" x2="324.50" y2="321.50" stroke="#1a1a1a" stroke-width="1" />
<line x1="284.88" y1="481.50" x2="284.88" y2="485.50" stroke="#1a1a1a" stroke-width="1" />
<line x1="284.88" y1="273.50" x2="284.88" y2="277.50" stroke="#1a1a1a" stroke-width="1" />
<line x1="63.00" y1="305.50" x2="67.00" y2="305.50" stroke="#1a1a1a" stroke-width="1" />
<line x1="320.50" y1="305.50" x2="324.50" y2="305.50" stroke="#1a1a1a" stroke-width="1" />
<line x1="304.69" y1="481.50" x2="304.69" y2="483.50" stroke="#1a1a1a" stroke-width="1" />
<line x1="304.69" y1="273.50" x2="304.69" y2="275.50" stroke="#1a1a1a" stroke-width="1" />
<line x1="65.00" y1="289.50" x2="67.00" y2="289.50" stroke="#1a1a1a" stroke-width="1" />
<line x1="322.50" y1="289.50" x2="324.50" y2="289.50" stroke="#1a1a1a" stroke-width="1" />
<line x1="324.50" y1="481.50" x2="324.50" y2="485.50" stroke="#1a1a1a" stroke-width="1" />
<line x1="324.50" y1="273.50" x2="324.50" y2="277.50" stroke="#1a1a1a" stroke-width="1" />
<line x1="63.00" y1="273.50" x2="67.00" y2="273.50" stroke="#1a1a1a" stroke-width="1" />
<line x1="320.50" y1="273.50" x2="324.50" y2="273.50" stroke="#1a1a1a" stroke-width="1" />
<text x="86.81" y="498.40" font-size="10.5" text-anchor="middle" >-1.0x10<tspan font-size="7.6" dy="-5.0">-4</tspan></text>
<text x="59.70" y="469.25" font-size="10.5" text-anchor="end" >-1.0x10<tspan font-size="7.6" dy="-5.0">-4</tspan></text>
<text x="126.42" y="498.40" font-size="10.5" text-anchor="middle" >-5.0x10<tspan font-size="7.6" dy="-5.0">-5</tspan></text>
<text x="59.70" y="437.25" font-size="10.5" text-anchor="end" >-5.0x10<tspan font-size="7.6" dy="-5.0">-5</tspan></text>
<text x="166.04" y="498.40" font-size="10.5" text-anchor="middle" >0.0</text>
<text x="59.70" y="405.25" font-size="10.5" text-anchor="end" >0.0</text>
<text x="205.65" y="498.40" font-size="10.5" text-anchor="middle" >5.0x10<tspan font-size="7.6" dy="-5.0">-5</tspan></text>
<text x="59.70" y="373.25" font-size="10.5" text-anchor="end" >5.0x10<tspan font-size="7.6" dy="-5.0">-5</tspan></text>
<text x="245.27" y="498.40" font-size="10.5" text-anchor="middle" >1.0x10<tspan font-size="7.6" dy="-5.0">-4</tspan></text>
<text x="59.70" y="341.25" font-size="10.5" text-anchor="end" >1.0x10<tspan font-size="7.6" dy="-5.0">-4</tspan></text>
<text x="284.88" y="498.40" font-size="10.5" text-anchor="middle" >1.5x10<tspan font-size="7.6" dy="-5.0">-4</tspan></text>
<text x="59.70" y="309.25" font-size="10.5" text-anchor="end" >1.5x10<tspan font-size="7.6" dy="-5.0">-4</tspan></text>
<text x="324.50" y="498.40" font-size="10.5" text-anchor="middle" >2.0x10<tspan font-size="7.6" dy="-5.0">-4</tspan></text>
<text x="59.70" y="277.25" font-size="10.5" text-anchor="end" >2.0x10<tspan font-size="7.6" dy="-5.0">-4</tspan></text>
<text x="196.05" y="517.00" font-size="10.85" text-anchor="middle" >DFT Stress σ<tspan font-size="7.4" dy="3.5">y</tspan><tspan dy="-3.5"> (eV/Å</tspan><tspan font-size="7.4" dy="-3.8">2</tspan><tspan dy="3.8">)</tspan></text>
<text transform="translate(10.8,377.4) rotate(-90)" font-size="10.85" text-anchor="middle">Model Stress σ<tspan font-size="7.4" dy="3.5">y</tspan><tspan dy="-3.5"> (eV/Å</tspan><tspan font-size="7.4" dy="-3.8">2</tspan><tspan dy="3.8">)</tspan></text>
<text x="75.70" y="292.80" font-size="14.4" text-anchor="start" letter-spacing="0.4">(c)</text>
</g>
<g>
<g fill="#ff0a0a">
<circle cx="474.1" cy="428.3" r="1.7"/>
<circle cx="475.2" cy="427.9" r="1.7"/>
<circle cx="475.4" cy="426.1" r="1.7"/>
<circle cx="475.5" cy="425.6" r="1.7"/>
<circle cx="475.9" cy="426.6" r="1.7"/>
<circle cx="476.0" cy="426.9" r="1.7"/>
<circle cx="476.7" cy="425.8" r="1.7"/>
<circle cx="477.4" cy="424.7" r="1.7"/>
<circle cx="477.7" cy="424.1" r="1.7"/>
<circle cx="477.8" cy="423.0" r="1.7"/>
<circle cx="478.2" cy="425.0" r="1.7"/>
<circle cx="478.5" cy="425.4" r="1.7"/>
<circle cx="478.9" cy="423.4" r="1.7"/>
<circle cx="479.0" cy="423.0" r="1.7"/>
<circle cx="479.4" cy="423.3" r="1.7"/>
<circle cx="479.6" cy="422.5" r="1.7"/>
<circle cx="480.1" cy="423.0" r="1.7"/>
<circle cx="480.5" cy="422.8" r="1.7"/>
<circle cx="480.7" cy="423.2" r="1.7"/>
<circle cx="481.0" cy="422.9" r="1.7"/>
<circle cx="481.2" cy="421.4" r="1.7"/>
<circle cx="481.5" cy="421.2" r="1.7"/>
<circle cx="481.6" cy="421.5" r="1.7"/>
<circle cx="481.9" cy="420.3" r="1.7"/>
<circle cx="482.3" cy="420.8" r="1.7"/>
<circle cx="483.0" cy="420.0" r="1.7"/>
<circle cx="483.2" cy="420.3" r="1.7"/>
<circle cx="483.3" cy="419.0" r="1.7"/>
<circle cx="483.5" cy="419.9" r="1.7"/>
<circle cx="483.9" cy="419.5" r="1.7"/>
<circle cx="484.1" cy="419.8" r="1.7"/>
<circle cx="484.5" cy="420.5" r="1.7"/>
<circle cx="484.7" cy="418.3" r="1.7"/>
<circle cx="485.2" cy="418.4" r="1.7"/>
<circle cx="485.4" cy="419.6" r="1.7"/>
<circle cx="485.7" cy="418.0" r="1.7"/>
<circle cx="485.9" cy="418.2" r="1.7"/>
<circle cx="486.1" cy="417.7" r="1.7"/>
<circle cx="486.4" cy="419.3" r="1.7"/>
<circle cx="486.5" cy="416.8" r="1.7"/>
<circle cx="486.9" cy="418.1" r="1.7"/>
<circle cx="487.1" cy="415.8" r="1.7"/>
<circle cx="487.4" cy="416.7" r="1.7"/>
<circle cx="487.6" cy="416.2" r="1.7"/>
<circle cx="487.8" cy="416.3" r="1.7"/>
<circle cx="488.2" cy="416.3" r="1.7"/>
<circle cx="488.3" cy="416.8" r="1.7"/>
<circle cx="488.5" cy="414.9" r="1.7"/>
<circle cx="488.8" cy="416.1" r="1.7"/>
<circle cx="489.0" cy="415.0" r="1.7"/>
<circle cx="489.3" cy="416.1" r="1.7"/>
<circle cx="489.7" cy="414.4" r="1.7"/>
<circle cx="489.8" cy="415.3" r="1.7"/>
<circle cx="490.2" cy="414.1" r="1.7"/>
<circle cx="490.3" cy="415.0" r="1.7"/>
<circle cx="490.7" cy="415.2" r="1.7"/>
<circle cx="490.9" cy="414.0" r="1.7"/>
<circle cx="491.1" cy="413.4" r="1.7"/>
<circle cx="491.5" cy="414.2" r="1.7"/>
<circle cx="491.5" cy="412.9" r="1.7"/>
<circle cx="491.8" cy="415.2" r="1.7"/>
<circle cx="492.2" cy="410.2" r="1.7"/>
<circle cx="492.4" cy="413.6" r="1.7"/>
<circle cx="492.7" cy="413.1" r="1.7"/>
<circle cx="492.8" cy="414.0" r="1.7"/>
<circle cx="493.2" cy="413.1" r="1.7"/>
<circle cx="493.5" cy="412.7" r="1.7"/>
<circle cx="493.9" cy="413.4" r="1.7"/>
<circle cx="494.2" cy="412.1" r="1.7"/>
<circle cx="494.4" cy="411.1" r="1.7"/>
<circle cx="494.5" cy="412.0" r="1.7"/>
<circle cx="495.0" cy="410.3" r="1.7"/>
<circle cx="495.1" cy="410.4" r="1.7"/>
<circle cx="495.4" cy="409.5" r="1.7"/>
<circle cx="495.6" cy="410.9" r="1.7"/>
<circle cx="495.8" cy="408.9" r="1.7"/>
<circle cx="496.1" cy="409.9" r="1.7"/>
<circle cx="496.3" cy="411.5" r="1.7"/>
<circle cx="496.7" cy="409.1" r="1.7"/>
<circle cx="496.9" cy="410.1" r="1.7"/>
<circle cx="497.2" cy="409.3" r="1.7"/>
<circle cx="497.5" cy="410.8" r="1.7"/>
<circle cx="497.7" cy="409.2" r="1.7"/>
<circle cx="497.8" cy="408.7" r="1.7"/>
<circle cx="498.1" cy="409.3" r="1.7"/>
<circle cx="498.5" cy="408.6" r="1.7"/>
<circle cx="498.7" cy="407.6" r="1.7"/>
<circle cx="498.8" cy="406.6" r="1.7"/>
<circle cx="499.2" cy="407.9" r="1.7"/>
<circle cx="499.5" cy="405.9" r="1.7"/>
<circle cx="499.7" cy="409.1" r="1.7"/>
<circle cx="499.9" cy="407.1" r="1.7"/>
<circle cx="500.1" cy="407.9" r="1.7"/>
<circle cx="500.3" cy="406.8" r="1.7"/>
<circle cx="500.7" cy="406.9" r="1.7"/>
<circle cx="500.9" cy="405.3" r="1.7"/>
<circle cx="501.2" cy="407.4" r="1.7"/>
<circle cx="501.4" cy="404.8" r="1.7"/>
<circle cx="501.6" cy="406.5" r="1.7"/>
<circle cx="501.8" cy="407.7" r="1.7"/>
<circle cx="502.0" cy="404.6" r="1.7"/>
<circle cx="502.3" cy="404.9" r="1.7"/>
<circle cx="502.6" cy="405.1" r="1.7"/>
<circle cx="502.8" cy="403.0" r="1.7"/>
<circle cx="503.0" cy="404.3" r="1.7"/>
<circle cx="503.3" cy="404.2" r="1.7"/>
<circle cx="503.7" cy="404.0" r="1.7"/>
<circle cx="504.0" cy="402.3" r="1.7"/>
<circle cx="504.2" cy="403.8" r="1.7"/>
<circle cx="504.4" cy="403.8" r="1.7"/>
<circle cx="504.6" cy="402.4" r="1.7"/>
<circle cx="504.8" cy="402.7" r="1.7"/>
<circle cx="505.1" cy="402.1" r="1.7"/>
<circle cx="505.3" cy="403.3" r="1.7"/>
<circle cx="505.5" cy="403.1" r="1.7"/>
<circle cx="505.9" cy="402.6" r="1.7"/>
<circle cx="506.2" cy="402.6" r="1.7"/>
<circle cx="506.3" cy="399.8" r="1.7"/>
<circle cx="506.6" cy="401.4" r="1.7"/>
<circle cx="507.0" cy="401.8" r="1.7"/>
<circle cx="507.2" cy="399.4" r="1.7"/>
<circle cx="507.4" cy="400.5" r="1.7"/>
<circle cx="507.6" cy="399.9" r="1.7"/>
<circle cx="507.9" cy="400.4" r="1.7"/>
<circle cx="508.0" cy="400.5" r="1.7"/>
<circle cx="508.3" cy="400.0" r="1.7"/>
<circle cx="508.7" cy="400.7" r="1.7"/>
<circle cx="509.0" cy="399.3" r="1.7"/>
<circle cx="509.1" cy="397.8" r="1.7"/>
<circle cx="509.5" cy="399.9" r="1.7"/>
<circle cx="509.7" cy="398.8" r="1.7"/>
<circle cx="510.0" cy="398.6" r="1.7"/>
<circle cx="510.0" cy="397.5" r="1.7"/>
<circle cx="510.4" cy="398.6" r="1.7"/>
<circle cx="510.7" cy="397.2" r="1.7"/>
<circle cx="510.8" cy="398.4" r="1.7"/>
<circle cx="511.2" cy="398.2" r="1.7"/>
<circle cx="511.4" cy="397.8" r="1.7"/>
<circle cx="511.5" cy="396.8" r="1.7"/>
<circle cx="511.6" cy="396.3" r="1.7"/>
<circle cx="511.6" cy="397.0" r="1.7"/>
<circle cx="511.8" cy="397.9" r="1.7"/>
<circle cx="512.1" cy="398.0" r="1.7"/>
<circle cx="512.1" cy="397.2" r="1.7"/>
<circle cx="512.4" cy="396.6" r="1.7"/>
<circle cx="512.7" cy="396.6" r="1.7"/>
<circle cx="513.0" cy="395.3" r="1.7"/>
<circle cx="513.0" cy="396.3" r="1.7"/>
<circle cx="513.3" cy="395.4" r="1.7"/>
<circle cx="513.5" cy="394.7" r="1.7"/>
<circle cx="514.0" cy="397.1" r="1.7"/>
<circle cx="514.2" cy="395.2" r="1.7"/>
<circle cx="514.5" cy="395.2" r="1.7"/>
<circle cx="514.5" cy="395.1" r="1.7"/>
<circle cx="515.0" cy="394.6" r="1.7"/>
<circle cx="515.2" cy="396.5" r="1.7"/>
<circle cx="515.5" cy="393.6" r="1.7"/>
<circle cx="515.5" cy="394.5" r="1.7"/>
<circle cx="515.9" cy="391.3" r="1.7"/>
<circle cx="515.9" cy="392.1" r="1.7"/>
<circle cx="516.1" cy="396.0" r="1.7"/>
<circle cx="516.3" cy="393.9" r="1.7"/>
<circle cx="516.7" cy="392.6" r="1.7"/>
<circle cx="517.0" cy="392.2" r="1.7"/>
<circle cx="517.0" cy="391.7" r="1.7"/>
<circle cx="517.4" cy="393.2" r="1.7"/>
<circle cx="517.5" cy="393.3" r="1.7"/>
<circle cx="517.8" cy="392.7" r="1.7"/>
<circle cx="518.2" cy="391.8" r="1.7"/>
<circle cx="518.3" cy="393.2" r="1.7"/>
<circle cx="518.7" cy="392.6" r="1.7"/>
<circle cx="519.0" cy="391.3" r="1.7"/>
<circle cx="519.2" cy="391.3" r="1.7"/>
<circle cx="519.3" cy="388.8" r="1.7"/>
<circle cx="519.7" cy="392.3" r="1.7"/>
<circle cx="520.0" cy="389.8" r="1.7"/>
<circle cx="520.2" cy="390.5" r="1.7"/>
<circle cx="520.3" cy="390.6" r="1.7"/>
<circle cx="520.7" cy="389.9" r="1.7"/>
<circle cx="520.8" cy="391.5" r="1.7"/>
<circle cx="521.2" cy="389.5" r="1.7"/>
<circle cx="521.4" cy="388.5" r="1.7"/>
<circle cx="521.7" cy="389.6" r="1.7"/>
<circle cx="521.9" cy="386.9" r="1.7"/>
<circle cx="522.2" cy="389.0" r="1.7"/>
<circle cx="522.5" cy="386.6" r="1.7"/>
<circle cx="522.7" cy="386.5" r="1.7"/>
<circle cx="522.8" cy="388.1" r="1.7"/>
<circle cx="523.2" cy="387.5" r="1.7"/>
<circle cx="523.4" cy="390.1" r="1.7"/>
<circle cx="523.7" cy="386.8" r="1.7"/>
<circle cx="523.9" cy="386.5" r="1.7"/>
<circle cx="523.9" cy="386.3" r="1.7"/>
<circle cx="524.0" cy="386.9" r="1.7"/>
<circle cx="524.3" cy="387.3" r="1.7"/>
<circle cx="524.7" cy="387.0" r="1.7"/>
<circle cx="525.0" cy="386.8" r="1.7"/>
<circle cx="525.0" cy="388.0" r="1.7"/>
<circle cx="525.3" cy="386.1" r="1.7"/>
<circle cx="525.7" cy="386.4" r="1.7"/>
<circle cx="525.9" cy="386.1" r="1.7"/>
<circle cx="526.2" cy="385.9" r="1.7"/>
<circle cx="526.1" cy="385.4" r="1.7"/>
<circle cx="526.3" cy="383.8" r="1.7"/>
<circle cx="526.7" cy="384.3" r="1.7"/>
<circle cx="527.0" cy="382.7" r="1.7"/>
<circle cx="527.0" cy="385.0" r="1.7"/>
<circle cx="527.3" cy="384.6" r="1.7"/>
<circle cx="527.6" cy="384.3" r="1.7"/>
<circle cx="527.8" cy="385.0" r="1.7"/>
<circle cx="528.1" cy="383.4" r="1.7"/>
<circle cx="528.4" cy="382.5" r="1.7"/>
<circle cx="528.6" cy="381.7" r="1.7"/>
<circle cx="528.8" cy="384.0" r="1.7"/>
<circle cx="528.8" cy="382.7" r="1.7"/>
<circle cx="529.2" cy="381.6" r="1.7"/>
<circle cx="529.5" cy="380.6" r="1.7"/>
<circle cx="529.6" cy="384.5" r="1.7"/>
<circle cx="530.0" cy="383.3" r="1.7"/>
<circle cx="530.0" cy="384.2" r="1.7"/>
<circle cx="530.2" cy="381.9" r="1.7"/>
<circle cx="530.2" cy="381.6" r="1.7"/>
<circle cx="530.3" cy="380.7" r="1.7"/>
<circle cx="530.5" cy="381.5" r="1.7"/>
<circle cx="531.0" cy="381.6" r="1.7"/>
<circle cx="531.1" cy="381.5" r="1.7"/>
<circle cx="531.3" cy="382.1" r="1.7"/>
<circle cx="531.6" cy="381.0" r="1.7"/>
<circle cx="531.8" cy="380.9" r="1.7"/>
<circle cx="532.2" cy="380.3" r="1.7"/>
<circle cx="532.3" cy="378.9" r="1.7"/>
<circle cx="532.7" cy="381.1" r="1.7"/>
<circle cx="533.0" cy="380.7" r="1.7"/>
<circle cx="533.0" cy="381.7" r="1.7"/>
<circle cx="533.1" cy="379.9" r="1.7"/>
<circle cx="533.2" cy="380.9" r="1.7"/>
<circle cx="533.4" cy="380.3" r="1.7"/>
<circle cx="533.7" cy="379.3" r="1.7"/>
<circle cx="533.8" cy="379.8" r="1.7"/>
<circle cx="534.0" cy="380.0" r="1.7"/>
<circle cx="534.4" cy="381.0" r="1.7"/>
<circle cx="534.6" cy="377.2" r="1.7"/>
<circle cx="534.9" cy="376.5" r="1.7"/>
<circle cx="535.1" cy="376.7" r="1.7"/>
<circle cx="535.5" cy="378.8" r="1.7"/>
<circle cx="535.7" cy="378.1" r="1.7"/>
<circle cx="535.9" cy="377.5" r="1.7"/>
<circle cx="536.1" cy="377.7" r="1.7"/>
<circle cx="536.3" cy="376.7" r="1.7"/>
<circle cx="536.6" cy="377.4" r="1.7"/>
<circle cx="536.9" cy="376.1" r="1.7"/>
<circle cx="537.2" cy="376.7" r="1.7"/>
<circle cx="537.3" cy="374.8" r="1.7"/>
<circle cx="537.6" cy="375.6" r="1.7"/>
<circle cx="537.8" cy="375.6" r="1.7"/>
<circle cx="538.1" cy="378.5" r="1.7"/>
<circle cx="538.4" cy="374.2" r="1.7"/>
<circle cx="538.6" cy="376.2" r="1.7"/>
<circle cx="538.9" cy="375.2" r="1.7"/>
<circle cx="539.0" cy="374.4" r="1.7"/>
<circle cx="539.3" cy="373.5" r="1.7"/>
<circle cx="539.5" cy="373.9" r="1.7"/>
<circle cx="540.0" cy="372.4" r="1.7"/>
<circle cx="540.2" cy="373.3" r="1.7"/>
<circle cx="540.4" cy="374.2" r="1.7"/>
<circle cx="540.7" cy="375.5" r="1.7"/>
<circle cx="540.8" cy="369.1" r="1.7"/>
<circle cx="541.1" cy="373.8" r="1.7"/>
<circle cx="541.5" cy="374.7" r="1.7"/>
<circle cx="541.7" cy="373.2" r="1.7"/>
<circle cx="541.8" cy="373.5" r="1.7"/>
<circle cx="542.1" cy="372.8" r="1.7"/>
<circle cx="542.5" cy="371.1" r="1.7"/>
<circle cx="542.6" cy="371.9" r="1.7"/>
<circle cx="542.8" cy="371.2" r="1.7"/>
<circle cx="542.8" cy="371.7" r="1.7"/>
<circle cx="543.1" cy="371.3" r="1.7"/>
<circle cx="543.3" cy="371.4" r="1.7"/>
<circle cx="543.5" cy="372.3" r="1.7"/>
<circle cx="543.9" cy="369.7" r="1.7"/>
<circle cx="544.2" cy="369.3" r="1.7"/>
<circle cx="544.3" cy="369.3" r="1.7"/>
<circle cx="544.7" cy="368.3" r="1.7"/>
<circle cx="544.7" cy="370.7" r="1.7"/>
<circle cx="545.0" cy="369.7" r="1.7"/>
<circle cx="545.2" cy="368.3" r="1.7"/>
<circle cx="545.0" cy="369.2" r="1.7"/>
<circle cx="545.4" cy="368.8" r="1.7"/>
<circle cx="545.7" cy="368.7" r="1.7"/>
<circle cx="545.9" cy="367.9" r="1.7"/>
<circle cx="546.1" cy="369.1" r="1.7"/>
<circle cx="546.4" cy="370.5" r="1.7"/>
<circle cx="546.4" cy="366.3" r="1.7"/>
<circle cx="546.6" cy="368.8" r="1.7"/>
<circle cx="546.8" cy="369.6" r="1.7"/>
<circle cx="546.9" cy="367.4" r="1.7"/>
<circle cx="547.2" cy="366.4" r="1.7"/>
<circle cx="547.1" cy="369.2" r="1.7"/>
<circle cx="547.4" cy="370.2" r="1.7"/>
<circle cx="547.7" cy="365.8" r="1.7"/>
<circle cx="547.6" cy="366.5" r="1.7"/>
<circle cx="547.9" cy="368.7" r="1.7"/>
<circle cx="548.0" cy="367.5" r="1.7"/>
<circle cx="548.5" cy="366.7" r="1.7"/>
<circle cx="548.6" cy="366.3" r="1.7"/>
<circle cx="549.0" cy="365.1" r="1.7"/>
<circle cx="549.0" cy="367.7" r="1.7"/>
<circle cx="549.3" cy="365.5" r="1.7"/>
<circle cx="549.6" cy="368.1" r="1.7"/>
<circle cx="549.7" cy="362.2" r="1.7"/>
<circle cx="549.9" cy="364.8" r="1.7"/>
<circle cx="550.0" cy="365.6" r="1.7"/>
<circle cx="550.2" cy="366.1" r="1.7"/>
<circle cx="550.5" cy="365.7" r="1.7"/>
<circle cx="550.7" cy="364.5" r="1.7"/>
<circle cx="550.6" cy="366.5" r="1.7"/>
<circle cx="551.0" cy="364.5" r="1.7"/>
<circle cx="551.1" cy="366.7" r="1.7"/>
<circle cx="551.4" cy="363.1" r="1.7"/>
<circle cx="551.6" cy="363.9" r="1.7"/>
<circle cx="551.8" cy="361.5" r="1.7"/>
<circle cx="552.1" cy="362.7" r="1.7"/>
<circle cx="552.2" cy="367.1" r="1.7"/>
<circle cx="552.4" cy="365.1" r="1.7"/>
<circle cx="552.6" cy="360.8" r="1.7"/>
<circle cx="552.6" cy="363.9" r="1.7"/>
<circle cx="552.8" cy="363.1" r="1.7"/>
<circle cx="552.8" cy="365.3" r="1.7"/>
<circle cx="553.1" cy="363.1" r="1.7"/>
<circle cx="553.1" cy="365.1" r="1.7"/>
<circle cx="553.4" cy="360.9" r="1.7"/>
<circle cx="553.3" cy="361.1" r="1.7"/>
<circle cx="553.6" cy="361.5" r="1.7"/>
<circle cx="554.0" cy="362.5" r="1.7"/>
<circle cx="554.1" cy="362.2" r="1.7"/>
<circle cx="554.4" cy="363.8" r="1.7"/>
<circle cx="554.4" cy="363.7" r="1.7"/>
<circle cx="554.7" cy="359.2" r="1.7"/>
<circle cx="554.6" cy="363.0" r="1.7"/>
<circle cx="554.8" cy="362.7" r="1.7"/>
<circle cx="555.1" cy="358.1" r="1.7"/>
<circle cx="555.2" cy="359.8" r="1.7"/>
<circle cx="555.3" cy="360.9" r="1.7"/>
<circle cx="555.7" cy="359.0" r="1.7"/>
<circle cx="555.8" cy="360.7" r="1.7"/>
<circle cx="556.0" cy="364.7" r="1.7"/>
<circle cx="556.0" cy="360.5" r="1.7"/>
<circle cx="556.4" cy="358.9" r="1.7"/>
<circle cx="556.5" cy="360.0" r="1.7"/>
<circle cx="556.6" cy="361.6" r="1.7"/>
<circle cx="557.0" cy="358.8" r="1.7"/>
<circle cx="557.0" cy="358.4" r="1.7"/>
<circle cx="557.4" cy="358.5" r="1.7"/>
<circle cx="557.6" cy="358.5" r="1.7"/>
<circle cx="557.8" cy="359.0" r="1.7"/>
<circle cx="558.1" cy="358.9" r="1.7"/>
<circle cx="558.4" cy="358.9" r="1.7"/>
<circle cx="558.6" cy="360.8" r="1.7"/>
<circle cx="558.6" cy="360.9" r="1.7"/>
<circle cx="559.0" cy="357.3" r="1.7"/>
<circle cx="559.2" cy="356.9" r="1.7"/>
<circle cx="559.5" cy="355.0" r="1.7"/>
<circle cx="559.7" cy="358.9" r="1.7"/>
<circle cx="560.0" cy="359.8" r="1.7"/>
<circle cx="560.2" cy="358.8" r="1.7"/>
<circle cx="560.3" cy="357.1" r="1.7"/>
<circle cx="560.3" cy="356.2" r="1.7"/>
<circle cx="560.7" cy="356.7" r="1.7"/>
<circle cx="560.7" cy="356.5" r="1.7"/>
<circle cx="560.8" cy="357.1" r="1.7"/>
<circle cx="561.2" cy="357.7" r="1.7"/>
<circle cx="561.4" cy="358.1" r="1.7"/>
<circle cx="561.4" cy="357.4" r="1.7"/>
<circle cx="561.5" cy="359.7" r="1.7"/>
<circle cx="561.9" cy="357.0" r="1.7"/>
<circle cx="562.1" cy="354.9" r="1.7"/>
<circle cx="562.2" cy="359.1" r="1.7"/>
<circle cx="562.4" cy="356.1" r="1.7"/>
<circle cx="562.7" cy="353.1" r="1.7"/>
<circle cx="562.8" cy="352.0" r="1.7"/>
<circle cx="563.1" cy="355.2" r="1.7"/>
<circle cx="563.5" cy="356.0" r="1.7"/>
<circle cx="563.5" cy="354.4" r="1.7"/>
<circle cx="563.6" cy="352.0" r="1.7"/>
<circle cx="563.6" cy="355.6" r="1.7"/>
<circle cx="563.8" cy="352.2" r="1.7"/>
<circle cx="564.2" cy="351.4" r="1.7"/>
<circle cx="564.4" cy="353.6" r="1.7"/>
<circle cx="564.6" cy="354.4" r="1.7"/>
<circle cx="564.7" cy="353.2" r="1.7"/>
<circle cx="564.9" cy="354.9" r="1.7"/>
<circle cx="565.0" cy="354.8" r="1.7"/>
<circle cx="565.1" cy="352.8" r="1.7"/>
<circle cx="565.5" cy="354.7" r="1.7"/>
<circle cx="565.6" cy="352.2" r="1.7"/>
<circle cx="565.7" cy="354.0" r="1.7"/>
<circle cx="565.9" cy="356.5" r="1.7"/>
<circle cx="566.2" cy="353.1" r="1.7"/>
<circle cx="566.3" cy="351.2" r="1.7"/>
<circle cx="566.4" cy="353.5" r="1.7"/>
<circle cx="566.7" cy="354.0" r="1.7"/>
<circle cx="566.9" cy="353.0" r="1.7"/>
<circle cx="566.9" cy="350.6" r="1.7"/>
<circle cx="567.2" cy="349.2" r="1.7"/>
<circle cx="567.3" cy="354.2" r="1.7"/>
<circle cx="567.5" cy="354.1" r="1.7"/>
<circle cx="567.6" cy="351.5" r="1.7"/>
<circle cx="567.8" cy="352.0" r="1.7"/>
<circle cx="568.1" cy="351.8" r="1.7"/>
<circle cx="568.2" cy="349.9" r="1.7"/>
<circle cx="568.3" cy="352.2" r="1.7"/>
<circle cx="568.6" cy="356.6" r="1.7"/>
<circle cx="568.9" cy="350.5" r="1.7"/>
<circle cx="568.8" cy="351.1" r="1.7"/>
<circle cx="569.0" cy="349.9" r="1.7"/>
<circle cx="569.0" cy="353.1" r="1.7"/>
<circle cx="569.4" cy="349.1" r="1.7"/>
<circle cx="569.7" cy="348.3" r="1.7"/>
<circle cx="569.8" cy="350.5" r="1.7"/>
<circle cx="569.9" cy="352.3" r="1.7"/>
<circle cx="570.2" cy="351.0" r="1.7"/>
<circle cx="570.3" cy="348.4" r="1.7"/>
<circle cx="570.7" cy="350.8" r="1.7"/>
<circle cx="570.9" cy="349.4" r="1.7"/>
<circle cx="571.2" cy="346.9" r="1.7"/>
<circle cx="571.4" cy="346.0" r="1.7"/>
<circle cx="571.5" cy="347.4" r="1.7"/>
<circle cx="571.9" cy="347.8" r="1.7"/>
<circle cx="572.2" cy="347.6" r="1.7"/>
<circle cx="572.2" cy="351.5" r="1.7"/>
<circle cx="572.3" cy="348.4" r="1.7"/>
<circle cx="572.3" cy="348.3" r="1.7"/>
<circle cx="572.7" cy="347.3" r="1.7"/>
<circle cx="572.6" cy="345.7" r="1.7"/>
<circle cx="572.8" cy="348.5" r="1.7"/>
<circle cx="573.0" cy="347.0" r="1.7"/>
<circle cx="573.4" cy="349.3" r="1.7"/>
<circle cx="573.7" cy="348.1" r="1.7"/>
<circle cx="573.8" cy="345.4" r="1.7"/>
<circle cx="574.2" cy="344.2" r="1.7"/>
<circle cx="574.4" cy="345.8" r="1.7"/>
<circle cx="574.5" cy="346.7" r="1.7"/>
<circle cx="574.8" cy="345.1" r="1.7"/>
<circle cx="575.1" cy="348.4" r="1.7"/>
<circle cx="575.1" cy="346.5" r="1.7"/>
<circle cx="575.4" cy="345.2" r="1.7"/>
<circle cx="575.4" cy="349.4" r="1.7"/>
<circle cx="575.5" cy="349.4" r="1.7"/>
<circle cx="575.6" cy="346.5" r="1.7"/>
<circle cx="575.8" cy="346.1" r="1.7"/>
<circle cx="576.0" cy="346.1" r="1.7"/>
<circle cx="576.2" cy="346.8" r="1.7"/>
<circle cx="576.5" cy="341.4" r="1.7"/>
<circle cx="576.3" cy="348.5" r="1.7"/>
<circle cx="576.7" cy="341.0" r="1.7"/>
<circle cx="576.7" cy="345.3" r="1.7"/>
<circle cx="576.9" cy="343.9" r="1.7"/>
<circle cx="577.2" cy="343.2" r="1.7"/>
<circle cx="577.2" cy="347.2" r="1.7"/>
<circle cx="577.3" cy="346.0" r="1.7"/>
<circle cx="577.6" cy="343.8" r="1.7"/>
<circle cx="577.9" cy="341.3" r="1.7"/>
<circle cx="578.1" cy="344.6" r="1.7"/>
<circle cx="578.5" cy="344.8" r="1.7"/>
<circle cx="578.7" cy="341.4" r="1.7"/>
<circle cx="578.8" cy="342.4" r="1.7"/>
<circle cx="579.1" cy="339.1" r="1.7"/>
<circle cx="579.3" cy="340.9" r="1.7"/>
<circle cx="579.6" cy="344.6" r="1.7"/>
<circle cx="580.0" cy="341.6" r="1.7"/>
<circle cx="580.2" cy="341.8" r="1.7"/>
<circle cx="580.4" cy="341.9" r="1.7"/>
<circle cx="580.6" cy="337.9" r="1.7"/>
<circle cx="580.8" cy="338.3" r="1.7"/>
<circle cx="581.1" cy="340.4" r="1.7"/>
<circle cx="581.3" cy="339.3" r="1.7"/>
<circle cx="581.6" cy="336.4" r="1.7"/>
<circle cx="582.0" cy="339.3" r="1.7"/>
<circle cx="582.1" cy="340.9" r="1.7"/>
<circle cx="582.3" cy="339.1" r="1.7"/>
<circle cx="582.7" cy="337.7" r="1.7"/>
<circle cx="583.6" cy="337.0" r="1.7"/>
<circle cx="584.0" cy="337.8" r="1.7"/>
<circle cx="418.3" cy="468.9" r="1.7"/>
<circle cx="422.2" cy="465.3" r="1.7"/>
<circle cx="431.5" cy="461.7" r="1.7"/>
<circle cx="432.7" cy="458.4" r="1.7"/>
<circle cx="432.0" cy="461.0" r="1.7"/>
<circle cx="438.7" cy="456.0" r="1.7"/>
<circle cx="440.2" cy="452.4" r="1.7"/>
<circle cx="446.2" cy="448.1" r="1.7"/>
<circle cx="447.0" cy="447.0" r="1.7"/>
<circle cx="450.6" cy="445.6" r="1.7"/>
<circle cx="451.5" cy="444.8" r="1.7"/>
<circle cx="453.8" cy="443.1" r="1.7"/>
<circle cx="456.7" cy="440.2" r="1.7"/>
<circle cx="458.8" cy="439.5" r="1.7"/>
<circle cx="459.5" cy="441.0" r="1.7"/>
<circle cx="463.1" cy="436.6" r="1.7"/>
<circle cx="466.7" cy="433.7" r="1.7"/>
<circle cx="467.0" cy="432.3" r="1.7"/>
<circle cx="471.8" cy="430.1" r="1.7"/>
<circle cx="472.5" cy="428.8" r="1.7"/>
<circle cx="587.5" cy="335.2" r="1.7"/>
<circle cx="589.0" cy="334.0" r="1.7"/>
<circle cx="592.1" cy="329.8" r="1.7"/>
<circle cx="594.4" cy="329.1" r="1.7"/>
<circle cx="597.8" cy="327.5" r="1.7"/>
<circle cx="597.5" cy="323.0" r="1.7"/>
<circle cx="598.7" cy="320.3" r="1.7"/>
<circle cx="609.8" cy="310.2" r="1.7"/>
<circle cx="611.3" cy="308.7" r="1.7"/>
<circle cx="615.6" cy="305.0" r="1.7"/>
<circle cx="619.0" cy="301.5" r="1.7"/>
</g>
<line x1="407.50" y1="481.50" x2="665.00" y2="273.50" stroke="#2a2aff" stroke-width="1" stroke-dasharray="2.7 2.309" stroke-dashoffset="0.45"/>
<line x1="405.50" y1="273.50" x2="665.00" y2="273.50" stroke="#1a1a1a" stroke-width="1" />
<line x1="407.50" y1="273.50" x2="407.50" y2="481.50" stroke="#1a1a1a" stroke-width="1" />
<line x1="407.50" y1="481.50" x2="665.00" y2="481.50" stroke="#1a1a1a" stroke-width="1" />
<line x1="665.00" y1="273.50" x2="665.00" y2="483.10" stroke="#1a1a1a" stroke-width="1" />
<line x1="407.50" y1="481.50" x2="407.50" y2="483.50" stroke="#1a1a1a" stroke-width="1" />
<line x1="407.50" y1="273.50" x2="407.50" y2="275.50" stroke="#1a1a1a" stroke-width="1" />
<line x1="405.50" y1="481.50" x2="407.50" y2="481.50" stroke="#1a1a1a" stroke-width="1" />
<line x1="663.00" y1="481.50" x2="665.00" y2="481.50" stroke="#1a1a1a" stroke-width="1" />
<line x1="427.31" y1="481.50" x2="427.31" y2="485.50" stroke="#1a1a1a" stroke-width="1" />
<line x1="427.31" y1="273.50" x2="427.31" y2="277.50" stroke="#1a1a1a" stroke-width="1" />
<line x1="403.50" y1="465.50" x2="407.50" y2="465.50" stroke="#1a1a1a" stroke-width="1" />
<line x1="661.00" y1="465.50" x2="665.00" y2="465.50" stroke="#1a1a1a" stroke-width="1" />
<line x1="447.12" y1="481.50" x2="447.12" y2="483.50" stroke="#1a1a1a" stroke-width="1" />
<line x1="447.12" y1="273.50" x2="447.12" y2="275.50" stroke="#1a1a1a" stroke-width="1" />
<line x1="405.50" y1="449.50" x2="407.50" y2="449.50" stroke="#1a1a1a" stroke-width="1" />
<line x1="663.00" y1="449.50" x2="665.00" y2="449.50" stroke="#1a1a1a" stroke-width="1" />
<line x1="466.92" y1="481.50" x2="466.92" y2="485.50" stroke="#1a1a1a" stroke-width="1" />
<line x1="466.92" y1="273.50" x2="466.92" y2="277.50" stroke="#1a1a1a" stroke-width="1" />
<line x1="403.50" y1="433.50" x2="407.50" y2="433.50" stroke="#1a1a1a" stroke-width="1" />
<line x1="661.00" y1="433.50" x2="665.00" y2="433.50" stroke="#1a1a1a" stroke-width="1" />
<line x1="486.73" y1="481.50" x2="486.73" y2="483.50" stroke="#1a1a1a" stroke-width="1" />
<line x1="486.73" y1="273.50" x2="486.73" y2="275.50" stroke="#1a1a1a" stroke-width="1" />
<line x1="405.50" y1="417.50" x2="407.50" y2="417.50" stroke="#1a1a1a" stroke-width="1" />
<line x1="663.00" y1="417.50" x2="665.00" y2="417.50" stroke="#1a1a1a" stroke-width="1" />
<line x1="506.54" y1="481.50" x2="506.54" y2="485.50" stroke="#1a1a1a" stroke-width="1" />
<line x1="506.54" y1="273.50" x2="506.54" y2="277.50" stroke="#1a1a1a" stroke-width="1" />
<line x1="403.50" y1="401.50" x2="407.50" y2="401.50" stroke="#1a1a1a" stroke-width="1" />
<line x1="661.00" y1="401.50" x2="665.00" y2="401.50" stroke="#1a1a1a" stroke-width="1" />
<line x1="526.35" y1="481.50" x2="526.35" y2="483.50" stroke="#1a1a1a" stroke-width="1" />
<line x1="526.35" y1="273.50" x2="526.35" y2="275.50" stroke="#1a1a1a" stroke-width="1" />
<line x1="405.50" y1="385.50" x2="407.50" y2="385.50" stroke="#1a1a1a" stroke-width="1" />
<line x1="663.00" y1="385.50" x2="665.00" y2="385.50" stroke="#1a1a1a" stroke-width="1" />
<line x1="546.15" y1="481.50" x2="546.15" y2="485.50" stroke="#1a1a1a" stroke-width="1" />
<line x1="546.15" y1="273.50" x2="546.15" y2="277.50" stroke="#1a1a1a" stroke-width="1" />
<line x1="403.50" y1="369.50" x2="407.50" y2="369.50" stroke="#1a1a1a" stroke-width="1" />
<line x1="661.00" y1="369.50" x2="665.00" y2="369.50" stroke="#1a1a1a" stroke-width="1" />
<line x1="565.96" y1="481.50" x2="565.96" y2="483.50" stroke="#1a1a1a" stroke-width="1" />
<line x1="565.96" y1="273.50" x2="565.96" y2="275.50" stroke="#1a1a1a" stroke-width="1" />
<line x1="405.50" y1="353.50" x2="407.50" y2="353.50" stroke="#1a1a1a" stroke-width="1" />
<line x1="663.00" y1="353.50" x2="665.00" y2="353.50" stroke="#1a1a1a" stroke-width="1" />
<line x1="585.77" y1="481.50" x2="585.77" y2="485.50" stroke="#1a1a1a" stroke-width="1" />
<line x1="585.77" y1="273.50" x2="585.77" y2="277.50" stroke="#1a1a1a" stroke-width="1" />
<line x1="403.50" y1="337.50" x2="407.50" y2="337.50" stroke="#1a1a1a" stroke-width="1" />
<line x1="661.00" y1="337.50" x2="665.00" y2="337.50" stroke="#1a1a1a" stroke-width="1" />
<line x1="605.58" y1="481.50" x2="605.58" y2="483.50" stroke="#1a1a1a" stroke-width="1" />
<line x1="605.58" y1="273.50" x2="605.58" y2="275.50" stroke="#1a1a1a" stroke-width="1" />
<line x1="405.50" y1="321.50" x2="407.50" y2="321.50" stroke="#1a1a1a" stroke-width="1" />
<line x1="663.00" y1="321.50" x2="665.00" y2="321.50" stroke="#1a1a1a" stroke-width="1" />
<line x1="625.38" y1="481.50" x2="625.38" y2="485.50" stroke="#1a1a1a" stroke-width="1" />
<line x1="625.38" y1="273.50" x2="625.38" y2="277.50" stroke="#1a1a1a" stroke-width="1" />
<line x1="403.50" y1="305.50" x2="407.50" y2="305.50" stroke="#1a1a1a" stroke-width="1" />
<line x1="661.00" y1="305.50" x2="665.00" y2="305.50" stroke="#1a1a1a" stroke-width="1" />
<line x1="645.19" y1="481.50" x2="645.19" y2="483.50" stroke="#1a1a1a" stroke-width="1" />
<line x1="645.19" y1="273.50" x2="645.19" y2="275.50" stroke="#1a1a1a" stroke-width="1" />
<line x1="405.50" y1="289.50" x2="407.50" y2="289.50" stroke="#1a1a1a" stroke-width="1" />
<line x1="663.00" y1="289.50" x2="665.00" y2="289.50" stroke="#1a1a1a" stroke-width="1" />
<line x1="665.00" y1="481.50" x2="665.00" y2="485.50" stroke="#1a1a1a" stroke-width="1" />
<line x1="665.00" y1="273.50" x2="665.00" y2="277.50" stroke="#1a1a1a" stroke-width="1" />
<line x1="403.50" y1="273.50" x2="407.50" y2="273.50" stroke="#1a1a1a" stroke-width="1" />
<line x1="661.00" y1="273.50" x2="665.00" y2="273.50" stroke="#1a1a1a" stroke-width="1" />
<text x="427.31" y="498.40" font-size="10.5" text-anchor="middle" >-1.0x10<tspan font-size="7.6" dy="-5.0">-4</tspan></text>
<text x="400.20" y="469.25" font-size="10.5" text-anchor="end" >-1.0x10<tspan font-size="7.6" dy="-5.0">-4</tspan></text>
<text x="466.92" y="498.40" font-size="10.5" text-anchor="middle" >-5.0x10<tspan font-size="7.6" dy="-5.0">-5</tspan></text>
<text x="400.20" y="437.25" font-size="10.5" text-anchor="end" >-5.0x10<tspan font-size="7.6" dy="-5.0">-5</tspan></text>
<text x="506.54" y="498.40" font-size="10.5" text-anchor="middle" >0.0</text>
<text x="400.20" y="405.25" font-size="10.5" text-anchor="end" >0.0</text>
<text x="546.15" y="498.40" font-size="10.5" text-anchor="middle" >5.0x10<tspan font-size="7.6" dy="-5.0">-5</tspan></text>
<text x="400.20" y="373.25" font-size="10.5" text-anchor="end" >5.0x10<tspan font-size="7.6" dy="-5.0">-5</tspan></text>
<text x="585.77" y="498.40" font-size="10.5" text-anchor="middle" >1.0x10<tspan font-size="7.6" dy="-5.0">-4</tspan></text>
<text x="400.20" y="341.25" font-size="10.5" text-anchor="end" >1.0x10<tspan font-size="7.6" dy="-5.0">-4</tspan></text>
<text x="625.38" y="498.40" font-size="10.5" text-anchor="middle" >1.5x10<tspan font-size="7.6" dy="-5.0">-4</tspan></text>
<text x="400.20" y="309.25" font-size="10.5" text-anchor="end" >1.5x10<tspan font-size="7.6" dy="-5.0">-4</tspan></text>
<text x="665.00" y="498.40" font-size="10.5" text-anchor="middle" >2.0x10<tspan font-size="7.6" dy="-5.0">-4</tspan></text>
<text x="400.20" y="277.25" font-size="10.5" text-anchor="end" >2.0x10<tspan font-size="7.6" dy="-5.0">-4</tspan></text>
<text x="536.55" y="517.00" font-size="10.85" text-anchor="middle" >DFT Stress σ<tspan font-size="7.4" dy="3.5">z</tspan><tspan dy="-3.5"> (eV/Å</tspan><tspan font-size="7.4" dy="-3.8">2</tspan><tspan dy="3.8">)</tspan></text>
<text transform="translate(351.3,377.4) rotate(-90)" font-size="10.85" text-anchor="middle">Model Stress σ<tspan font-size="7.4" dy="3.5">z</tspan><tspan dy="-3.5"> (eV/Å</tspan><tspan font-size="7.4" dy="-3.8">2</tspan><tspan dy="3.8">)</tspan></text>
<text x="413.90" y="292.80" font-size="14.4" text-anchor="start" letter-spacing="0.4">(d)</text>
</g>
</svg></body></html>
